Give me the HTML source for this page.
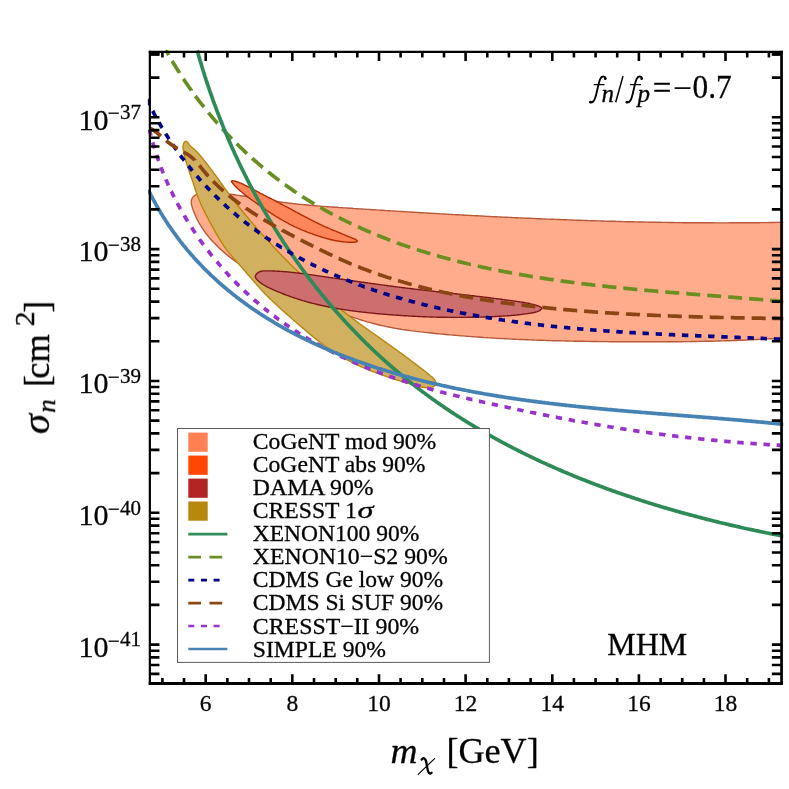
<!DOCTYPE html>
<html><head><meta charset="utf-8"><title>plot</title>
<style>html,body{margin:0;padding:0;background:#fff}svg{display:block;will-change:transform}text{font-family:"Liberation Serif",serif;fill:#000;stroke:#000;stroke-width:0.3px}</style></head><body>
<svg width="789" height="789" viewBox="0 0 789 789">
<rect width="789" height="789" fill="#fff"/>
<defs><clipPath id="cp"><rect x="147.85" y="49.85" width="635.40" height="635.65"/></clipPath></defs>
<g clip-path="url(#cp)" stroke-width="1.4" stroke-linejoin="round">
<path d="M795.0,222.1 L792.9,222.1 L790.8,222.2 L788.7,222.2 L786.6,222.2 L784.5,222.3 L782.4,222.3 L780.3,222.4 L778.2,222.4 L776.1,222.4 L774.0,222.5 L771.9,222.5 L769.7,222.5 L767.6,222.6 L765.5,222.6 L763.4,222.6 L761.3,222.6 L759.2,222.7 L757.1,222.7 L755.0,222.7 L752.9,222.7 L750.8,222.7 L748.7,222.8 L746.6,222.8 L744.5,222.8 L742.4,222.8 L740.3,222.8 L738.2,222.8 L736.1,222.8 L734.0,222.8 L731.9,222.8 L729.8,222.8 L727.6,222.9 L725.5,222.9 L723.4,222.9 L721.3,222.9 L719.2,222.9 L717.1,222.9 L715.0,222.9 L712.9,222.8 L710.8,222.8 L708.7,222.8 L706.6,222.8 L704.5,222.8 L702.4,222.8 L700.3,222.8 L698.2,222.8 L696.1,222.8 L694.0,222.8 L691.9,222.7 L689.8,222.7 L687.7,222.7 L685.6,222.7 L683.5,222.7 L681.4,222.6 L679.3,222.6 L677.2,222.6 L675.0,222.6 L672.9,222.5 L670.8,222.5 L668.7,222.5 L666.6,222.4 L664.5,222.4 L662.4,222.4 L660.3,222.3 L658.2,222.3 L656.1,222.3 L654.0,222.2 L651.9,222.2 L649.8,222.2 L647.7,222.1 L645.6,222.1 L643.5,222.0 L641.4,222.0 L639.3,222.0 L637.2,221.9 L635.1,221.9 L633.0,221.8 L630.9,221.8 L628.8,221.7 L626.7,221.7 L624.6,221.6 L622.5,221.6 L620.4,221.5 L618.3,221.5 L616.2,221.4 L614.1,221.3 L612.0,221.3 L609.9,221.2 L607.8,221.2 L605.7,221.1 L603.6,221.0 L601.4,221.0 L599.3,220.9 L597.2,220.9 L595.1,220.8 L593.0,220.7 L590.9,220.7 L588.8,220.6 L586.7,220.5 L584.6,220.5 L582.5,220.4 L580.4,220.3 L578.3,220.2 L576.2,220.2 L574.1,220.1 L572.0,220.0 L569.9,219.9 L567.8,219.9 L565.7,219.8 L563.6,219.7 L561.5,219.6 L559.4,219.5 L557.3,219.5 L555.2,219.4 L553.1,219.3 L551.0,219.2 L548.9,219.1 L546.8,219.1 L544.7,219.0 L542.6,218.9 L540.5,218.8 L538.4,218.7 L536.3,218.6 L534.2,218.5 L532.1,218.4 L530.0,218.3 L527.9,218.2 L525.8,218.2 L523.7,218.1 L521.6,218.0 L519.5,217.9 L517.4,217.8 L515.3,217.7 L513.2,217.6 L511.1,217.5 L509.0,217.4 L506.9,217.3 L504.8,217.2 L502.7,217.1 L500.6,217.0 L498.5,216.9 L496.4,216.8 L494.3,216.7 L492.1,216.6 L490.0,216.5 L487.9,216.4 L485.8,216.3 L483.7,216.1 L481.6,216.0 L479.5,215.9 L477.4,215.8 L475.3,215.7 L473.2,215.6 L471.1,215.5 L469.0,215.4 L466.9,215.3 L464.8,215.2 L462.7,215.0 L460.6,214.9 L458.5,214.8 L456.4,214.7 L454.3,214.6 L452.2,214.5 L450.1,214.4 L448.0,214.2 L445.9,214.1 L443.8,214.0 L441.7,213.9 L439.6,213.8 L437.5,213.6 L435.4,213.5 L433.3,213.4 L431.2,213.3 L429.1,213.2 L427.0,213.0 L424.9,212.9 L422.8,212.8 L420.7,212.7 L418.6,212.5 L416.5,212.4 L414.4,212.3 L412.3,212.2 L410.2,212.0 L408.1,211.9 L406.0,211.8 L403.9,211.6 L401.8,211.5 L399.7,211.4 L397.6,211.3 L395.5,211.1 L393.4,211.0 L391.3,210.9 L389.2,210.7 L387.1,210.6 L385.0,210.5 L382.9,210.3 L380.8,210.2 L378.7,210.1 L376.6,209.9 L374.5,209.8 L372.4,209.7 L370.3,209.5 L368.2,209.4 L366.1,209.3 L364.0,209.1 L361.8,209.0 L359.7,208.9 L357.6,208.7 L355.5,208.6 L353.4,208.5 L351.3,208.3 L349.2,208.2 L347.1,208.0 L345.0,207.9 L342.9,207.8 L340.8,207.6 L338.7,207.5 L336.6,207.3 L334.5,207.2 L332.4,207.0 L330.3,206.9 L328.2,206.7 L326.1,206.6 L324.0,206.4 L321.9,206.3 L319.8,206.1 L317.7,205.9 L315.6,205.7 L313.5,205.6 L311.5,205.4 L309.4,205.2 L307.3,205.0 L305.2,204.8 L303.1,204.6 L301.0,204.4 L298.9,204.2 L296.8,203.9 L294.7,203.7 L292.7,203.5 L290.6,203.2 L288.5,203.0 L286.4,202.7 L284.3,202.4 L282.3,202.2 L280.2,201.9 L278.1,201.6 L276.0,201.3 L274.0,201.0 L271.9,200.7 L269.8,200.3 L267.8,200.0 L265.7,199.7 L263.6,199.3 L261.6,199.0 L259.5,198.7 L257.4,198.3 L255.4,198.0 L253.3,197.6 L251.2,197.3 L249.2,196.9 L247.1,196.6 L245.0,196.3 L242.9,196.0 L240.8,195.7 L238.8,195.4 L236.7,195.1 L234.6,194.8 L232.5,194.5 L230.4,194.2 L228.3,194.0 L226.1,193.8 L224.0,193.5 L221.9,193.3 L219.8,193.1 L217.6,193.0 L215.5,192.8 L213.3,192.7 L211.1,192.6 L209.0,192.5 L206.8,192.5 L204.6,192.5 L202.5,192.7 L200.5,193.0 L198.5,193.5 L196.7,194.2 L195.0,195.3 L193.4,196.6 L192.2,198.2 L191.5,200.0 L191.3,201.9 L191.4,204.0 L191.9,206.1 L192.5,208.2 L193.2,210.2 L194.0,212.3 L194.8,214.3 L195.7,216.3 L196.6,218.2 L197.5,220.1 L198.5,222.0 L199.6,223.9 L200.7,225.7 L201.8,227.5 L203.0,229.2 L204.2,231.0 L205.4,232.7 L206.7,234.3 L208.0,236.0 L209.3,237.6 L210.7,239.2 L212.1,240.8 L213.5,242.3 L215.0,243.8 L216.4,245.3 L217.9,246.8 L219.4,248.2 L221.0,249.6 L222.5,251.0 L224.1,252.4 L225.7,253.7 L227.3,255.1 L228.9,256.4 L230.5,257.7 L232.2,258.9 L233.9,260.2 L235.6,261.4 L237.3,262.6 L239.0,263.8 L240.7,265.0 L242.4,266.1 L244.2,267.3 L245.9,268.4 L247.7,269.5 L249.5,270.6 L251.3,271.7 L253.1,272.7 L254.9,273.8 L256.8,274.8 L258.6,275.8 L260.5,276.8 L262.3,277.8 L264.2,278.8 L266.1,279.8 L267.9,280.8 L269.8,281.7 L271.7,282.7 L273.6,283.6 L275.5,284.6 L277.4,285.5 L279.4,286.4 L281.3,287.3 L283.2,288.2 L285.1,289.1 L287.1,290.0 L289.0,290.9 L290.9,291.7 L292.9,292.6 L294.8,293.5 L296.7,294.4 L298.7,295.2 L300.6,296.1 L302.5,296.9 L304.5,297.8 L306.4,298.7 L308.4,299.5 L310.3,300.4 L312.2,301.2 L314.2,302.1 L316.1,302.9 L318.1,303.7 L320.0,304.5 L321.9,305.4 L323.9,306.2 L325.8,307.0 L327.8,307.8 L329.7,308.6 L331.7,309.4 L333.6,310.2 L335.6,310.9 L337.5,311.7 L339.5,312.4 L341.5,313.2 L343.4,313.9 L345.4,314.6 L347.4,315.4 L349.3,316.1 L351.3,316.7 L353.3,317.4 L355.3,318.1 L357.2,318.7 L359.2,319.4 L361.2,320.0 L363.2,320.6 L365.2,321.2 L367.2,321.8 L369.2,322.4 L371.3,322.9 L373.3,323.5 L375.3,324.0 L377.3,324.5 L379.4,325.0 L381.4,325.5 L383.4,325.9 L385.5,326.4 L387.5,326.8 L389.6,327.2 L391.6,327.6 L393.7,328.0 L395.8,328.4 L397.9,328.7 L399.9,329.0 L402.0,329.4 L404.1,329.7 L406.2,330.0 L408.3,330.3 L410.4,330.6 L412.4,330.9 L414.5,331.1 L416.6,331.4 L418.7,331.6 L420.8,331.9 L422.9,332.1 L425.0,332.4 L427.1,332.6 L429.2,332.8 L431.3,333.0 L433.4,333.3 L435.5,333.5 L437.6,333.7 L439.7,333.9 L441.8,334.1 L443.9,334.3 L446.0,334.5 L448.1,334.7 L450.2,334.9 L452.3,335.1 L454.4,335.2 L456.5,335.4 L458.6,335.6 L460.7,335.8 L462.8,335.9 L464.9,336.1 L467.0,336.3 L469.1,336.4 L471.2,336.6 L473.3,336.7 L475.4,336.9 L477.5,337.0 L479.6,337.2 L481.7,337.3 L483.8,337.5 L485.9,337.6 L488.0,337.8 L490.1,337.9 L492.2,338.0 L494.3,338.1 L496.4,338.3 L498.5,338.4 L500.6,338.5 L502.7,338.6 L504.8,338.7 L506.9,338.8 L509.0,338.9 L511.1,339.1 L513.2,339.2 L515.3,339.3 L517.5,339.4 L519.6,339.5 L521.7,339.5 L523.8,339.6 L525.9,339.7 L528.0,339.8 L530.1,339.9 L532.2,340.0 L534.3,340.1 L536.4,340.1 L538.5,340.2 L540.6,340.3 L542.7,340.3 L544.8,340.4 L546.9,340.5 L549.0,340.5 L551.1,340.6 L553.2,340.7 L555.3,340.7 L557.4,340.8 L559.5,340.8 L561.6,340.9 L563.7,340.9 L565.8,341.0 L567.9,341.0 L570.0,341.1 L572.1,341.1 L574.2,341.2 L576.3,341.2 L578.4,341.3 L580.5,341.3 L582.6,341.3 L584.7,341.4 L586.8,341.4 L588.9,341.4 L591.0,341.5 L593.1,341.5 L595.2,341.5 L597.3,341.5 L599.4,341.6 L601.5,341.6 L603.6,341.6 L605.7,341.6 L607.8,341.6 L609.9,341.7 L612.0,341.7 L614.1,341.7 L616.2,341.7 L618.3,341.7 L620.4,341.7 L622.5,341.8 L624.6,341.8 L626.7,341.8 L628.9,341.8 L631.0,341.8 L633.1,341.8 L635.2,341.8 L637.3,341.8 L639.4,341.8 L641.5,341.8 L643.6,341.8 L645.7,341.8 L647.8,341.8 L649.9,341.8 L652.0,341.8 L654.1,341.8 L656.2,341.8 L658.3,341.8 L660.4,341.8 L662.5,341.8 L664.6,341.8 L666.7,341.8 L668.8,341.8 L670.9,341.8 L673.1,341.7 L675.2,341.7 L677.3,341.7 L679.4,341.7 L681.5,341.7 L683.6,341.6 L685.7,341.6 L687.8,341.6 L689.9,341.6 L692.0,341.5 L694.1,341.5 L696.2,341.5 L698.3,341.4 L700.4,341.4 L702.5,341.4 L704.6,341.3 L706.7,341.3 L708.8,341.2 L710.9,341.2 L713.1,341.2 L715.2,341.1 L717.3,341.0 L719.4,341.0 L721.5,340.9 L723.6,340.9 L725.7,340.8 L727.8,340.7 L729.9,340.7 L732.0,340.6 L734.1,340.5 L736.2,340.5 L738.3,340.4 L740.4,340.3 L742.5,340.2 L744.6,340.1 L746.7,340.0 L748.8,339.9 L750.9,339.8 L753.0,339.7 L755.1,339.6 L757.2,339.5 L759.3,339.4 L761.4,339.3 L763.5,339.2 L765.6,339.1 L767.7,338.9 L769.8,338.8 L771.9,338.7 L774.0,338.6 L776.1,338.4 L778.2,338.3 L780.3,338.1 L782.4,338.0 L784.5,337.8 L786.6,337.7 L788.7,337.5 L790.8,337.4 L792.9,337.2 L795.0,337.0Z" fill="#ffac8d" stroke="#b8593a"/>
<path d="M231.5,181.3 L231.5,181.2 L231.5,181.1 L231.6,181.0 L231.6,181.0 L231.7,180.9 L231.8,180.9 L231.9,180.9 L232.0,180.8 L232.1,180.8 L232.3,180.8 L232.4,180.8 L232.6,180.8 L232.8,180.8 L233.0,180.9 L233.3,180.9 L233.5,180.9 L233.8,181.0 L234.0,181.0 L234.3,181.0 L234.6,181.1 L234.9,181.1 L235.3,181.2 L235.6,181.3 L236.0,181.4 L236.3,181.5 L236.7,181.6 L237.1,181.7 L237.5,181.9 L238.0,182.1 L238.4,182.2 L238.9,182.4 L239.4,182.6 L239.8,182.8 L240.3,183.0 L240.9,183.2 L241.4,183.5 L241.9,183.7 L242.5,184.0 L243.0,184.2 L243.6,184.5 L244.2,184.8 L244.8,185.1 L245.4,185.4 L246.1,185.7 L246.7,186.0 L247.4,186.3 L248.0,186.7 L248.7,187.0 L249.4,187.4 L250.1,187.8 L250.8,188.1 L251.5,188.5 L252.3,188.9 L253.0,189.3 L253.8,189.7 L254.5,190.1 L255.3,190.5 L256.1,190.9 L256.9,191.3 L257.7,191.8 L258.5,192.2 L259.3,192.6 L260.1,193.1 L261.0,193.5 L261.8,194.0 L262.7,194.4 L263.5,194.8 L264.4,195.3 L265.3,195.7 L266.2,196.2 L267.0,196.6 L267.9,197.1 L268.8,197.5 L269.8,198.0 L270.7,198.4 L271.6,198.9 L272.5,199.4 L273.5,199.9 L274.4,200.4 L275.3,200.9 L276.3,201.4 L277.2,201.9 L278.2,202.4 L279.2,203.0 L280.1,203.5 L281.1,204.0 L282.1,204.5 L283.0,205.0 L284.0,205.6 L285.0,206.1 L286.0,206.6 L287.0,207.1 L288.0,207.6 L288.9,208.2 L289.9,208.7 L290.9,209.2 L291.9,209.7 L292.9,210.3 L293.9,210.8 L294.9,211.3 L295.9,211.9 L296.9,212.4 L297.9,213.0 L298.9,213.5 L299.9,214.0 L300.8,214.6 L301.8,215.1 L302.8,215.6 L303.8,216.1 L304.8,216.6 L305.8,217.1 L306.7,217.7 L307.7,218.2 L308.7,218.7 L309.6,219.2 L310.6,219.7 L311.6,220.1 L312.5,220.6 L313.5,221.1 L314.4,221.6 L315.3,222.1 L316.3,222.5 L317.2,223.0 L318.1,223.4 L319.0,223.9 L320.0,224.3 L320.9,224.7 L321.8,225.2 L322.6,225.6 L323.5,226.0 L324.4,226.4 L325.3,226.8 L326.1,227.1 L327.0,227.5 L327.8,227.9 L328.7,228.2 L329.5,228.6 L330.3,228.9 L331.1,229.3 L331.9,229.6 L332.7,230.0 L333.5,230.3 L334.3,230.6 L335.0,230.9 L335.8,231.2 L336.5,231.5 L337.3,231.8 L338.0,232.1 L338.7,232.4 L339.4,232.7 L340.1,233.0 L340.8,233.3 L341.4,233.6 L342.1,233.8 L342.7,234.1 L343.4,234.4 L344.0,234.6 L344.6,234.9 L345.2,235.1 L345.8,235.4 L346.3,235.6 L346.9,235.8 L347.4,236.0 L347.9,236.3 L348.5,236.5 L349.0,236.7 L349.4,236.9 L349.9,237.1 L350.4,237.3 L350.8,237.4 L351.3,237.6 L351.7,237.8 L352.1,238.0 L352.5,238.1 L352.8,238.3 L353.2,238.4 L353.5,238.6 L353.9,238.7 L354.2,238.8 L354.5,239.0 L354.8,239.1 L355.0,239.2 L355.3,239.4 L355.5,239.5 L355.8,239.6 L356.0,239.7 L356.2,239.8 L356.4,240.0 L356.5,240.1 L356.7,240.2 L356.8,240.3 L356.9,240.4 L357.0,240.5 L357.1,240.6 L357.2,240.7 L357.2,240.8 L357.3,240.9 L357.3,241.0 L357.3,241.0 L357.3,241.0 L357.3,241.1 L357.3,241.2 L357.2,241.3 L357.2,241.4 L357.1,241.4 L357.0,241.5 L356.9,241.6 L356.8,241.6 L356.7,241.7 L356.5,241.8 L356.4,241.8 L356.2,241.9 L356.0,241.9 L355.8,242.0 L355.5,242.0 L355.3,242.1 L355.0,242.1 L354.8,242.1 L354.5,242.2 L354.2,242.2 L353.9,242.2 L353.5,242.2 L353.2,242.2 L352.8,242.2 L352.5,242.2 L352.1,242.2 L351.7,242.2 L351.3,242.2 L350.8,242.2 L350.4,242.2 L349.9,242.2 L349.4,242.2 L349.0,242.2 L348.5,242.2 L347.9,242.2 L347.4,242.1 L346.9,242.1 L346.3,242.1 L345.8,242.0 L345.2,242.0 L344.6,241.9 L344.0,241.9 L343.4,241.8 L342.7,241.8 L342.1,241.7 L341.4,241.6 L340.8,241.5 L340.1,241.4 L339.4,241.3 L338.7,241.2 L338.0,241.1 L337.3,241.0 L336.5,240.8 L335.8,240.7 L335.0,240.5 L334.3,240.4 L333.5,240.2 L332.7,240.0 L331.9,239.8 L331.1,239.7 L330.3,239.5 L329.5,239.2 L328.7,239.0 L327.8,238.8 L327.0,238.6 L326.1,238.3 L325.3,238.1 L324.4,237.8 L323.5,237.6 L322.6,237.3 L321.8,237.0 L320.9,236.8 L320.0,236.5 L319.0,236.2 L318.1,235.9 L317.2,235.6 L316.3,235.3 L315.3,235.0 L314.4,234.7 L313.5,234.4 L312.5,234.0 L311.6,233.7 L310.6,233.4 L309.6,233.0 L308.7,232.6 L307.7,232.3 L306.7,231.9 L305.8,231.5 L304.8,231.1 L303.8,230.7 L302.8,230.3 L301.8,229.9 L300.8,229.4 L299.9,229.0 L298.9,228.6 L297.9,228.1 L296.9,227.7 L295.9,227.2 L294.9,226.8 L293.9,226.3 L292.9,225.8 L291.9,225.3 L290.9,224.8 L289.9,224.3 L288.9,223.8 L288.0,223.2 L287.0,222.7 L286.0,222.2 L285.0,221.6 L284.0,221.1 L283.0,220.5 L282.1,220.0 L281.1,219.4 L280.1,218.8 L279.2,218.3 L278.2,217.7 L277.2,217.1 L276.3,216.6 L275.3,216.0 L274.4,215.4 L273.5,214.8 L272.5,214.2 L271.6,213.6 L270.7,213.0 L269.8,212.4 L268.8,211.8 L267.9,211.2 L267.0,210.6 L266.2,210.0 L265.3,209.3 L264.4,208.7 L263.5,208.1 L262.7,207.5 L261.8,206.9 L261.0,206.4 L260.1,205.8 L259.3,205.2 L258.5,204.6 L257.7,204.1 L256.9,203.5 L256.1,202.9 L255.3,202.4 L254.5,201.8 L253.8,201.3 L253.0,200.7 L252.3,200.2 L251.5,199.7 L250.8,199.2 L250.1,198.6 L249.4,198.1 L248.7,197.6 L248.0,197.1 L247.4,196.6 L246.7,196.1 L246.1,195.6 L245.4,195.1 L244.8,194.6 L244.2,194.2 L243.6,193.7 L243.0,193.2 L242.5,192.8 L241.9,192.3 L241.4,191.8 L240.9,191.4 L240.3,191.0 L239.8,190.5 L239.4,190.1 L238.9,189.7 L238.4,189.3 L238.0,188.9 L237.5,188.5 L237.1,188.1 L236.7,187.7 L236.3,187.3 L236.0,187.0 L235.6,186.6 L235.3,186.2 L234.9,185.9 L234.6,185.5 L234.3,185.2 L234.0,184.8 L233.8,184.5 L233.5,184.2 L233.3,183.9 L233.0,183.7 L232.8,183.4 L232.6,183.2 L232.4,183.0 L232.3,182.7 L232.1,182.5 L232.0,182.4 L231.9,182.2 L231.8,182.0 L231.7,181.9 L231.6,181.7 L231.6,181.6 L231.5,181.5 L231.5,181.4 L231.5,181.3Z" fill="#ff8659" stroke="#b42c04"/>
<path d="M185.6,141.2 L186.7,141.5 L187.8,142.5 L188.7,143.8 L189.6,145.1 L190.6,146.3 L191.7,147.2 L192.8,148.1 L193.9,149.0 L195.0,150.0 L196.1,151.0 L197.1,152.0 L198.1,153.1 L199.1,154.2 L200.0,155.3 L200.9,156.4 L201.9,157.6 L202.8,158.7 L203.7,159.9 L204.6,161.0 L205.6,162.2 L206.5,163.3 L207.4,164.5 L208.3,165.6 L209.2,166.8 L210.0,167.9 L210.9,169.1 L211.8,170.3 L212.7,171.4 L213.5,172.6 L214.4,173.8 L215.3,175.0 L216.1,176.1 L217.0,177.3 L217.9,178.5 L218.7,179.7 L219.6,180.9 L220.4,182.1 L221.3,183.3 L222.1,184.5 L223.0,185.7 L223.8,186.9 L224.7,188.1 L225.5,189.2 L226.4,190.4 L227.2,191.6 L228.1,192.8 L228.9,194.0 L229.8,195.2 L230.7,196.3 L231.6,197.5 L232.4,198.7 L233.3,199.8 L234.2,201.0 L235.1,202.2 L236.0,203.3 L236.9,204.5 L237.8,205.6 L238.7,206.8 L239.7,207.9 L240.6,209.0 L241.5,210.2 L242.4,211.3 L243.3,212.4 L244.3,213.5 L245.2,214.7 L246.1,215.8 L247.1,216.9 L248.0,218.0 L249.0,219.2 L249.9,220.3 L250.9,221.4 L251.8,222.5 L252.8,223.6 L253.7,224.7 L254.7,225.8 L255.6,226.9 L256.6,228.0 L257.5,229.1 L258.5,230.2 L259.5,231.3 L260.4,232.4 L261.4,233.5 L262.4,234.6 L263.4,235.7 L264.3,236.8 L265.3,237.9 L266.3,239.0 L267.3,240.1 L268.3,241.1 L269.3,242.2 L270.3,243.3 L271.3,244.4 L272.2,245.4 L273.2,246.5 L274.2,247.6 L275.3,248.7 L276.3,249.7 L277.3,250.8 L278.3,251.8 L279.3,252.9 L280.3,254.0 L281.3,255.0 L282.3,256.1 L283.4,257.1 L284.4,258.2 L285.4,259.2 L286.4,260.2 L287.5,261.3 L288.5,262.3 L289.5,263.4 L290.6,264.4 L291.6,265.4 L292.6,266.5 L293.7,267.5 L294.7,268.5 L295.8,269.5 L296.8,270.6 L297.9,271.6 L298.9,272.6 L300.0,273.6 L301.1,274.6 L302.1,275.6 L303.2,276.6 L304.3,277.6 L305.3,278.6 L306.4,279.6 L307.5,280.6 L308.5,281.6 L309.6,282.6 L310.7,283.6 L311.8,284.6 L312.9,285.6 L314.0,286.5 L315.0,287.5 L316.1,288.5 L317.2,289.5 L318.3,290.4 L319.4,291.4 L320.5,292.4 L321.6,293.3 L322.7,294.3 L323.8,295.2 L324.9,296.2 L326.1,297.1 L327.2,298.1 L328.3,299.0 L329.4,300.0 L330.5,300.9 L331.7,301.9 L332.8,302.8 L333.9,303.7 L335.0,304.7 L336.2,305.6 L337.3,306.5 L338.4,307.4 L339.6,308.3 L340.7,309.2 L341.9,310.2 L343.0,311.1 L344.2,312.0 L345.3,312.9 L346.5,313.8 L347.6,314.7 L348.8,315.6 L349.9,316.5 L351.1,317.3 L352.3,318.2 L353.4,319.1 L354.6,320.0 L355.8,320.9 L356.9,321.7 L358.1,322.6 L359.3,323.5 L360.5,324.3 L361.7,325.2 L362.8,326.0 L364.0,326.9 L365.2,327.7 L366.4,328.6 L367.6,329.4 L368.8,330.3 L370.0,331.1 L371.2,332.0 L372.4,332.8 L373.6,333.7 L374.8,334.5 L376.0,335.3 L377.2,336.2 L378.4,337.0 L379.6,337.9 L380.8,338.7 L382.0,339.6 L383.2,340.4 L384.4,341.3 L385.6,342.1 L386.8,343.0 L388.0,343.8 L389.2,344.7 L390.3,345.5 L391.5,346.4 L392.7,347.2 L393.9,348.1 L395.1,348.9 L396.3,349.8 L397.5,350.7 L398.6,351.5 L399.8,352.4 L401.0,353.2 L402.2,354.1 L403.3,354.9 L404.5,355.8 L405.7,356.7 L406.8,357.5 L408.0,358.4 L409.2,359.2 L410.3,360.1 L411.5,361.0 L412.7,361.8 L413.8,362.7 L415.0,363.6 L416.1,364.5 L417.3,365.4 L418.5,366.3 L419.6,367.2 L420.8,368.1 L422.0,369.0 L423.1,369.9 L424.3,370.8 L425.5,371.7 L426.6,372.7 L427.8,373.6 L429.0,374.5 L430.1,375.5 L431.3,376.5 L432.5,377.4 L433.5,378.5 L434.5,379.5 L435.2,380.7 L435.7,381.9 L435.9,383.2 L435.6,384.6 L434.7,385.7 L433.4,386.5 L432.1,387.1 L430.6,387.5 L429.1,387.7 L427.6,387.7 L426.1,387.7 L424.6,387.5 L423.1,387.3 L421.7,387.0 L420.2,386.7 L418.8,386.4 L417.4,386.0 L416.0,385.6 L414.6,385.2 L413.2,384.8 L411.8,384.4 L410.4,384.0 L409.0,383.6 L407.6,383.2 L406.2,382.8 L404.8,382.4 L403.4,381.9 L402.0,381.5 L400.6,381.1 L399.2,380.7 L397.8,380.3 L396.4,379.8 L395.0,379.4 L393.6,378.9 L392.2,378.5 L390.9,378.0 L389.5,377.6 L388.1,377.1 L386.7,376.7 L385.3,376.2 L383.9,375.7 L382.5,375.2 L381.2,374.7 L379.8,374.2 L378.4,373.7 L377.0,373.2 L375.6,372.7 L374.3,372.2 L372.9,371.6 L371.5,371.1 L370.2,370.5 L368.8,370.0 L367.5,369.4 L366.1,368.9 L364.8,368.3 L363.4,367.7 L362.1,367.1 L360.7,366.5 L359.4,365.9 L358.1,365.3 L356.8,364.7 L355.4,364.0 L354.1,363.4 L352.8,362.7 L351.5,362.1 L350.2,361.4 L348.9,360.8 L347.6,360.1 L346.3,359.4 L345.0,358.7 L343.8,358.0 L342.5,357.2 L341.2,356.5 L340.0,355.8 L338.7,355.0 L337.5,354.3 L336.2,353.5 L335.0,352.7 L333.8,351.9 L332.5,351.1 L331.3,350.3 L330.1,349.5 L328.9,348.7 L327.7,347.9 L326.5,347.0 L325.3,346.2 L324.1,345.3 L323.0,344.4 L321.8,343.6 L320.6,342.7 L319.5,341.8 L318.3,340.9 L317.2,340.0 L316.0,339.1 L314.9,338.2 L313.7,337.3 L312.6,336.4 L311.4,335.4 L310.3,334.5 L309.2,333.6 L308.1,332.6 L306.9,331.7 L305.8,330.7 L304.7,329.8 L303.6,328.8 L302.5,327.9 L301.4,326.9 L300.3,326.0 L299.1,325.0 L298.0,324.0 L296.9,323.1 L295.8,322.1 L294.7,321.1 L293.6,320.2 L292.5,319.2 L291.4,318.2 L290.3,317.3 L289.2,316.3 L288.1,315.3 L287.0,314.4 L285.9,313.4 L284.8,312.4 L283.7,311.4 L282.6,310.5 L281.5,309.5 L280.4,308.5 L279.4,307.5 L278.3,306.6 L277.2,305.6 L276.1,304.6 L275.1,303.6 L274.0,302.6 L272.9,301.6 L271.9,300.6 L270.8,299.6 L269.8,298.6 L268.7,297.5 L267.7,296.5 L266.7,295.5 L265.7,294.4 L264.7,293.4 L263.6,292.3 L262.7,291.2 L261.7,290.2 L260.7,289.1 L259.7,288.0 L258.7,286.9 L257.7,285.8 L256.8,284.7 L255.8,283.6 L254.8,282.5 L253.9,281.4 L252.9,280.3 L252.0,279.2 L251.0,278.1 L250.0,277.0 L249.1,275.9 L248.1,274.8 L247.2,273.7 L246.2,272.5 L245.3,271.4 L244.3,270.3 L243.3,269.2 L242.4,268.1 L241.4,267.0 L240.4,265.9 L239.5,264.8 L238.5,263.7 L237.5,262.6 L236.5,261.5 L235.6,260.4 L234.6,259.3 L233.6,258.2 L232.7,257.1 L231.7,256.0 L230.8,254.9 L229.9,253.7 L228.9,252.6 L228.0,251.5 L227.1,250.3 L226.2,249.1 L225.4,248.0 L224.5,246.8 L223.7,245.6 L222.9,244.4 L222.1,243.2 L221.3,241.9 L220.5,240.7 L219.7,239.5 L218.9,238.2 L218.2,236.9 L217.5,235.7 L216.7,234.4 L216.0,233.1 L215.3,231.9 L214.6,230.6 L213.9,229.3 L213.1,228.0 L212.4,226.7 L211.7,225.4 L211.0,224.2 L210.3,222.9 L209.6,221.6 L208.9,220.3 L208.3,219.0 L207.6,217.7 L206.9,216.4 L206.2,215.1 L205.6,213.8 L204.9,212.5 L204.3,211.2 L203.6,209.9 L203.0,208.6 L202.4,207.3 L201.7,205.9 L201.1,204.6 L200.5,203.3 L200.0,201.9 L199.4,200.6 L198.8,199.2 L198.3,197.8 L197.8,196.5 L197.3,195.1 L196.8,193.7 L196.3,192.3 L195.8,190.9 L195.3,189.5 L194.9,188.1 L194.4,186.7 L194.0,185.3 L193.5,183.9 L193.1,182.5 L192.6,181.2 L192.1,179.8 L191.6,178.4 L191.2,177.0 L190.7,175.7 L190.2,174.3 L189.7,173.0 L189.3,171.6 L188.8,170.2 L188.3,168.9 L187.9,167.5 L187.4,166.1 L187.0,164.7 L186.6,163.3 L186.1,161.9 L185.7,160.5 L185.3,159.1 L184.9,157.6 L184.6,156.2 L184.2,154.7 L183.9,153.2 L183.6,151.7 L183.3,150.2 L183.1,148.7 L183.0,147.2 L183.1,145.8 L183.4,144.4 L183.8,143.2 L184.6,142.0 L185.6,141.2Z" fill="#d1b060" stroke="#b8860b"/>
<path d="M255.3,276.7 L255.5,275.6 L256.0,274.6 L256.8,273.7 L257.8,272.8 L258.9,272.1 L260.0,271.6 L261.1,271.3 L262.3,271.1 L263.5,270.9 L264.7,270.9 L265.9,270.9 L267.1,270.9 L268.3,270.9 L269.5,270.9 L270.7,270.9 L271.9,270.9 L273.1,271.0 L274.3,271.0 L275.5,271.1 L276.7,271.1 L277.9,271.2 L279.1,271.3 L280.3,271.4 L281.5,271.4 L282.6,271.5 L283.8,271.6 L285.0,271.7 L286.2,271.8 L287.4,271.9 L288.6,272.0 L289.7,272.1 L290.9,272.3 L292.1,272.4 L293.3,272.5 L294.4,272.6 L295.6,272.8 L296.8,272.9 L298.0,273.0 L299.1,273.2 L300.3,273.3 L301.5,273.5 L302.6,273.6 L303.8,273.8 L305.0,273.9 L306.1,274.1 L307.3,274.3 L308.5,274.4 L309.6,274.6 L310.8,274.7 L312.0,274.9 L313.1,275.1 L314.3,275.2 L315.5,275.4 L316.6,275.6 L317.8,275.8 L318.9,275.9 L320.1,276.1 L321.3,276.3 L322.4,276.4 L323.6,276.6 L324.8,276.8 L325.9,276.9 L327.1,277.1 L328.3,277.3 L329.4,277.5 L330.6,277.6 L331.8,277.8 L332.9,278.0 L334.1,278.1 L335.3,278.3 L336.4,278.5 L337.6,278.6 L338.8,278.8 L339.9,279.0 L341.1,279.2 L342.3,279.3 L343.5,279.5 L344.6,279.7 L345.8,279.8 L347.0,280.0 L348.1,280.2 L349.3,280.3 L350.5,280.5 L351.6,280.7 L352.8,280.8 L354.0,281.0 L355.2,281.2 L356.3,281.3 L357.5,281.5 L358.7,281.7 L359.8,281.8 L361.0,282.0 L362.2,282.2 L363.3,282.3 L364.5,282.5 L365.7,282.7 L366.9,282.8 L368.0,283.0 L369.2,283.1 L370.4,283.3 L371.5,283.5 L372.7,283.6 L373.9,283.8 L375.1,284.0 L376.2,284.1 L377.4,284.3 L378.6,284.4 L379.8,284.6 L380.9,284.8 L382.1,284.9 L383.3,285.1 L384.4,285.2 L385.6,285.4 L386.8,285.5 L388.0,285.7 L389.1,285.9 L390.3,286.0 L391.5,286.2 L392.7,286.3 L393.8,286.5 L395.0,286.6 L396.2,286.8 L397.3,286.9 L398.5,287.1 L399.7,287.2 L400.9,287.4 L402.0,287.5 L403.2,287.7 L404.4,287.8 L405.6,288.0 L406.7,288.1 L407.9,288.3 L409.1,288.4 L410.2,288.5 L411.4,288.7 L412.6,288.8 L413.8,289.0 L414.9,289.1 L416.1,289.3 L417.3,289.4 L418.5,289.5 L419.6,289.7 L420.8,289.8 L422.0,289.9 L423.1,290.1 L424.3,290.2 L425.5,290.4 L426.7,290.5 L427.8,290.6 L429.0,290.8 L430.2,290.9 L431.4,291.0 L432.5,291.2 L433.7,291.3 L434.9,291.4 L436.0,291.6 L437.2,291.7 L438.4,291.8 L439.6,292.0 L440.7,292.1 L441.9,292.2 L443.1,292.4 L444.3,292.5 L445.4,292.6 L446.6,292.8 L447.8,292.9 L448.9,293.0 L450.1,293.2 L451.3,293.3 L452.5,293.4 L453.6,293.6 L454.8,293.7 L456.0,293.8 L457.2,294.0 L458.3,294.1 L459.5,294.2 L460.7,294.4 L461.8,294.5 L463.0,294.6 L464.2,294.8 L465.4,294.9 L466.5,295.0 L467.7,295.2 L468.9,295.3 L470.0,295.4 L471.2,295.6 L472.4,295.7 L473.6,295.8 L474.7,296.0 L475.9,296.1 L477.1,296.3 L478.3,296.4 L479.4,296.5 L480.6,296.7 L481.8,296.8 L482.9,297.0 L484.1,297.1 L485.3,297.2 L486.5,297.4 L487.6,297.5 L488.8,297.7 L490.0,297.8 L491.2,298.0 L492.3,298.1 L493.5,298.3 L494.7,298.4 L495.8,298.6 L497.0,298.7 L498.2,298.9 L499.4,299.0 L500.5,299.2 L501.7,299.3 L502.9,299.5 L504.1,299.6 L505.2,299.8 L506.4,300.0 L507.6,300.1 L508.7,300.3 L509.9,300.4 L511.1,300.6 L512.3,300.8 L513.4,300.9 L514.6,301.1 L515.8,301.3 L517.0,301.4 L518.1,301.6 L519.3,301.8 L520.5,302.0 L521.6,302.1 L522.8,302.3 L524.0,302.5 L525.2,302.7 L526.3,302.9 L527.5,303.1 L528.7,303.3 L529.8,303.6 L531.0,303.9 L532.2,304.1 L533.3,304.4 L534.5,304.8 L535.7,305.1 L536.8,305.5 L538.0,305.9 L539.1,306.4 L540.2,306.9 L541.0,307.4 L541.6,308.0 L541.6,308.6 L541.3,309.3 L540.6,309.9 L539.7,310.6 L538.6,311.1 L537.5,311.6 L536.4,311.9 L535.2,312.2 L534.0,312.5 L532.7,312.7 L531.5,313.0 L530.3,313.2 L529.0,313.4 L527.8,313.6 L526.6,313.8 L525.4,313.9 L524.2,314.1 L523.0,314.3 L521.8,314.4 L520.6,314.6 L519.4,314.7 L518.2,314.8 L517.1,315.0 L515.9,315.1 L514.7,315.2 L513.5,315.3 L512.4,315.4 L511.2,315.5 L510.0,315.6 L508.8,315.7 L507.7,315.8 L506.5,315.9 L505.3,315.9 L504.2,316.0 L503.0,316.1 L501.8,316.1 L500.7,316.2 L499.5,316.3 L498.3,316.3 L497.2,316.4 L496.0,316.5 L494.8,316.5 L493.7,316.6 L492.5,316.6 L491.3,316.7 L490.2,316.7 L489.0,316.8 L487.8,316.8 L486.6,316.9 L485.5,316.9 L484.3,317.0 L483.1,317.0 L481.9,317.0 L480.8,317.1 L479.6,317.1 L478.4,317.1 L477.2,317.2 L476.1,317.2 L474.9,317.2 L473.7,317.2 L472.5,317.3 L471.3,317.3 L470.2,317.3 L469.0,317.3 L467.8,317.3 L466.6,317.4 L465.5,317.4 L464.3,317.4 L463.1,317.4 L461.9,317.4 L460.7,317.4 L459.5,317.4 L458.4,317.4 L457.2,317.4 L456.0,317.4 L454.8,317.4 L453.6,317.4 L452.5,317.4 L451.3,317.4 L450.1,317.4 L448.9,317.4 L447.7,317.4 L446.5,317.3 L445.4,317.3 L444.2,317.3 L443.0,317.3 L441.8,317.3 L440.6,317.2 L439.4,317.2 L438.2,317.2 L437.1,317.2 L435.9,317.1 L434.7,317.1 L433.5,317.1 L432.3,317.0 L431.1,317.0 L429.9,317.0 L428.8,316.9 L427.6,316.9 L426.4,316.8 L425.2,316.8 L424.0,316.7 L422.8,316.7 L421.7,316.6 L420.5,316.6 L419.3,316.5 L418.1,316.5 L416.9,316.4 L415.7,316.4 L414.5,316.3 L413.4,316.2 L412.2,316.2 L411.0,316.1 L409.8,316.1 L408.6,316.0 L407.4,315.9 L406.3,315.8 L405.1,315.8 L403.9,315.7 L402.7,315.6 L401.5,315.5 L400.3,315.5 L399.2,315.4 L398.0,315.3 L396.8,315.2 L395.6,315.1 L394.4,315.1 L393.3,315.0 L392.1,314.9 L390.9,314.8 L389.7,314.7 L388.5,314.6 L387.4,314.5 L386.2,314.4 L385.0,314.3 L383.8,314.2 L382.6,314.1 L381.5,314.0 L380.3,313.9 L379.1,313.8 L377.9,313.7 L376.8,313.6 L375.6,313.5 L374.4,313.4 L373.2,313.2 L372.1,313.1 L370.9,313.0 L369.7,312.9 L368.5,312.8 L367.4,312.6 L366.2,312.5 L365.0,312.4 L363.8,312.2 L362.7,312.1 L361.5,312.0 L360.3,311.8 L359.2,311.7 L358.0,311.6 L356.8,311.4 L355.7,311.3 L354.5,311.1 L353.3,311.0 L352.2,310.8 L351.0,310.6 L349.8,310.5 L348.7,310.3 L347.5,310.1 L346.3,310.0 L345.2,309.8 L344.0,309.6 L342.9,309.4 L341.7,309.2 L340.5,309.1 L339.4,308.9 L338.2,308.7 L337.1,308.5 L335.9,308.3 L334.8,308.1 L333.6,307.8 L332.4,307.6 L331.3,307.4 L330.1,307.2 L329.0,307.0 L327.8,306.7 L326.7,306.5 L325.5,306.3 L324.4,306.0 L323.2,305.8 L322.1,305.5 L320.9,305.3 L319.8,305.0 L318.6,304.7 L317.5,304.5 L316.4,304.2 L315.2,303.9 L314.1,303.6 L312.9,303.4 L311.8,303.1 L310.7,302.8 L309.5,302.5 L308.4,302.2 L307.2,301.9 L306.1,301.5 L305.0,301.2 L303.8,300.9 L302.7,300.6 L301.6,300.2 L300.4,299.9 L299.3,299.5 L298.2,299.2 L297.1,298.8 L295.9,298.4 L294.8,298.1 L293.7,297.7 L292.6,297.3 L291.4,296.9 L290.3,296.5 L289.2,296.1 L288.1,295.7 L287.0,295.3 L285.8,294.9 L284.7,294.5 L283.6,294.0 L282.5,293.6 L281.4,293.2 L280.3,292.7 L279.2,292.2 L278.0,291.8 L276.9,291.3 L275.8,290.8 L274.7,290.4 L273.6,289.9 L272.5,289.4 L271.4,288.9 L270.3,288.4 L269.2,287.8 L268.1,287.3 L267.0,286.8 L266.0,286.2 L264.9,285.6 L263.9,285.0 L262.9,284.4 L261.9,283.8 L261.0,283.1 L260.1,282.4 L259.2,281.7 L258.3,281.0 L257.5,280.2 L256.8,279.4 L256.1,278.5 L255.5,277.6 L255.3,276.7Z" fill="#cd6f6f" stroke="#7d1818"/>
</g>
<g clip-path="url(#cp)" fill="none" stroke-width="3.7">
<path d="M165.9,50.2L166.5,51.1L167.0,52.0L167.5,52.9L168.0,53.8L168.5,54.7L168.7,55.1M172.2,61.1L172.7,61.9L173.2,62.8L173.7,63.7L174.3,64.5L174.8,65.4L175.4,66.3L175.9,67.2L176.4,68.1L177.0,68.9L177.5,69.8L178.1,70.7L178.6,71.6L179.2,72.4L179.5,73.0M183.3,78.8L183.7,79.3L184.3,80.2L184.8,81.0L185.4,81.9L186.0,82.7L186.6,83.6L187.2,84.4L187.8,85.3L188.3,86.1L188.9,87.0L189.5,87.8L190.1,88.7L190.7,89.5L191.3,90.3L191.3,90.4M195.4,96.0L195.5,96.1L196.1,97.0L196.7,97.8L197.4,98.6L198.0,99.4L198.6,100.2L199.2,101.1L199.8,101.9L200.5,102.7L201.1,103.5L201.7,104.3L202.4,105.1L203.0,105.9L203.6,106.7L204.0,107.2M208.4,112.6L208.8,113.1L209.4,113.9L210.1,114.6L210.7,115.4L211.4,116.2L212.0,117.0L212.7,117.8L213.3,118.5L214.0,119.3L214.7,120.1L215.3,120.9L216.0,121.6L216.7,122.4L217.3,123.2L217.5,123.4M222.2,128.6L222.8,129.2L223.5,130.0L224.2,130.7L224.8,131.5L225.5,132.2L226.2,133.0L226.9,133.7L227.6,134.4L228.3,135.2L229.0,135.9L229.7,136.6L230.4,137.4L231.1,138.1L231.8,138.8L231.9,138.9M236.7,143.8L236.8,143.9L237.6,144.6L238.3,145.3L239.0,146.0L239.7,146.7L240.4,147.4L241.2,148.1L241.9,148.8L242.6,149.5L243.4,150.2L244.1,150.9L244.8,151.6L245.6,152.3L246.3,153.0L247.0,153.6M252.1,158.2L252.3,158.4L253.0,159.1L253.8,159.7L254.5,160.4L255.3,161.1L256.1,161.7L256.8,162.4L257.6,163.1L258.3,163.7L259.1,164.4L259.9,165.0L260.6,165.7L261.4,166.3L262.2,167.0L262.8,167.5M268.2,171.9L268.4,172.1L269.2,172.7L270.0,173.3L270.8,173.9L271.5,174.6L272.3,175.2L273.1,175.8L273.9,176.4L274.7,177.0L275.5,177.6L276.3,178.3L277.1,178.9L277.9,179.5L278.7,180.1L279.3,180.6M284.9,184.7L285.1,184.8L286.0,185.4L286.8,186.0L287.6,186.6L288.4,187.1L289.2,187.7L290.0,188.3L290.9,188.9L291.7,189.4L292.5,190.0L293.3,190.6L294.1,191.1L295.0,191.7L295.8,192.2L296.5,192.7M302.4,196.5L302.5,196.6L303.3,197.2L304.1,197.7L305.0,198.2L305.8,198.8L306.7,199.3L307.5,199.8L308.4,200.3L309.2,200.9L310.1,201.4L310.9,201.9L311.8,202.4L312.6,202.9L313.5,203.5L314.3,204.0L314.3,204.0M320.3,207.5L321.2,208.0L322.1,208.5L322.9,209.0L323.8,209.5L324.7,210.0L325.5,210.4L326.4,210.9L327.3,211.4L328.2,211.9L329.0,212.4L329.9,212.8L330.8,213.3L331.7,213.8L332.5,214.2L332.7,214.3M338.9,217.6L339.6,217.9L340.5,218.4L341.4,218.8L342.3,219.3L343.1,219.7L344.0,220.2L344.9,220.6L345.8,221.1L346.7,221.5L347.6,221.9L348.5,222.4L349.4,222.8L350.3,223.2L351.2,223.7L351.5,223.8M357.9,226.8L358.4,227.0L359.3,227.4L360.3,227.9L361.2,228.3L362.1,228.7L363.0,229.1L363.9,229.5L364.8,229.9L365.7,230.3L366.6,230.7L367.6,231.1L368.5,231.5L369.4,231.9L370.3,232.3L370.8,232.5M377.2,235.1L377.7,235.3L378.6,235.7L379.5,236.1L380.5,236.4L381.4,236.8L382.3,237.2L383.3,237.6L384.2,237.9L385.1,238.3L386.1,238.6L387.0,239.0L387.9,239.4L388.9,239.7L389.8,240.1L390.3,240.3M396.9,242.7L397.3,242.9L398.3,243.2L399.2,243.5L400.1,243.9L401.1,244.2L402.0,244.6L403.0,244.9L403.9,245.2L404.9,245.5L405.8,245.9L406.8,246.2L407.7,246.5L408.7,246.8L409.6,247.2L410.2,247.4M416.8,249.6L417.3,249.7L418.2,250.0L419.2,250.3L420.1,250.6L421.1,250.9L422.1,251.2L423.0,251.5L424.0,251.8L424.9,252.1L425.9,252.4L426.9,252.7L427.8,253.0L428.8,253.3L429.8,253.6L430.3,253.8M436.9,255.7L437.5,255.8L438.5,256.1L439.4,256.4L440.4,256.7L441.4,256.9L442.4,257.2L443.3,257.5L444.3,257.7L445.3,258.0L446.3,258.3L447.2,258.5L448.2,258.8L449.2,259.1L450.2,259.3L450.5,259.4M457.2,261.2L458.0,261.4L459.0,261.6L460.0,261.9L460.9,262.1L461.9,262.3L462.9,262.6L463.9,262.8L464.9,263.1L465.8,263.3L466.8,263.5L467.8,263.8L468.8,264.0L469.8,264.3L470.8,264.5L470.9,264.5M477.7,266.1L478.7,266.3L479.7,266.5L480.7,266.7L481.6,267.0L482.6,267.2L483.6,267.4L484.6,267.6L485.6,267.8L486.6,268.0L487.6,268.3L488.6,268.5L489.6,268.7L490.6,268.9L491.5,269.1M498.3,270.5L498.5,270.5L499.5,270.7L500.5,270.9L501.5,271.1L502.5,271.3L503.5,271.5L504.5,271.7L505.5,271.9L506.5,272.1L507.5,272.2L508.5,272.4L509.5,272.6L510.5,272.8L511.5,273.0L512.1,273.1M519.0,274.3L519.6,274.4L520.6,274.6L521.6,274.8L522.6,275.0L523.6,275.1L524.6,275.3L525.6,275.5L526.6,275.7L527.6,275.8L528.6,276.0L529.6,276.2L530.6,276.3L531.6,276.5L532.6,276.7L532.9,276.7M539.7,277.8L540.7,277.9L541.7,278.1L542.7,278.2L543.7,278.4L544.7,278.6L545.7,278.7L546.7,278.9L547.7,279.0L548.8,279.2L549.8,279.3L550.8,279.5L551.8,279.6L552.8,279.7L553.7,279.9M560.6,280.8L560.9,280.9L561.9,281.0L562.9,281.2L563.9,281.3L564.9,281.4L565.9,281.6L567.0,281.7L568.0,281.8L569.0,282.0L570.0,282.1L571.0,282.2L572.0,282.4L573.0,282.5L574.0,282.6L574.5,282.7M581.4,283.5L582.2,283.6L583.2,283.8L584.2,283.9L585.2,284.0L586.2,284.1L587.2,284.3L588.2,284.4L589.3,284.5L590.3,284.6L591.3,284.7L592.3,284.9L593.3,285.0L594.3,285.1L595.3,285.2L595.4,285.2M602.3,286.0L602.4,286.0L603.5,286.1L604.5,286.2L605.5,286.3L606.5,286.4L607.5,286.5L608.5,286.6L609.5,286.8L610.6,286.9L611.6,287.0L612.6,287.1L613.6,287.2L614.6,287.3L615.6,287.4L616.4,287.5M623.3,288.2L623.7,288.2L624.8,288.3L625.8,288.4L626.8,288.5L627.8,288.6L628.8,288.7L629.8,288.8L630.8,288.9L631.9,289.0L632.9,289.1L633.9,289.2L634.9,289.3L635.9,289.4L636.9,289.5L637.3,289.5M644.2,290.1L645.0,290.2L646.0,290.3L647.0,290.4L648.0,290.5L649.1,290.6L650.1,290.7L651.1,290.7L652.1,290.8L653.1,290.9L654.1,291.0L655.1,291.1L656.1,291.2L657.1,291.3L658.2,291.4L658.3,291.4M665.2,291.9L666.2,292.0L667.2,292.1L668.2,292.2L669.2,292.3L670.3,292.4L671.3,292.5L672.3,292.5L673.3,292.6L674.3,292.7L675.3,292.8L676.3,292.9L677.3,292.9L678.3,293.0L679.3,293.1M686.2,293.7L686.3,293.7L687.3,293.7L688.3,293.8L689.3,293.9L690.3,294.0L691.3,294.1L692.4,294.1L693.4,294.2L694.4,294.3L695.4,294.4L696.4,294.5L697.4,294.5L698.4,294.6L699.4,294.7L700.2,294.8M707.2,295.3L707.3,295.3L708.3,295.4L709.3,295.5L710.3,295.5L711.3,295.6L712.3,295.7L713.3,295.8L714.3,295.9L715.3,295.9L716.3,296.0L717.3,296.1L718.3,296.2L719.3,296.2L720.3,296.3L721.2,296.4M728.2,296.9L728.2,296.9L729.2,297.0L730.2,297.1L731.2,297.2L732.1,297.2L733.1,297.3L734.1,297.4L735.1,297.5L736.1,297.6L737.1,297.6L738.1,297.7L739.0,297.8L740.0,297.9L741.0,297.9L742.0,298.0L742.2,298.0M749.1,298.6L749.8,298.7L750.8,298.7L751.8,298.8L752.8,298.9L753.8,299.0L754.7,299.1L755.7,299.1L756.7,299.2L757.7,299.3L758.6,299.4L759.6,299.5L760.6,299.5L761.6,299.6L762.5,299.7L763.2,299.8M770.1,300.4L770.3,300.4L771.3,300.5L772.2,300.5L773.2,300.6L774.2,300.7L775.1,300.8L776.1,300.9L777.1,301.0L778.0,301.1L779.0,301.1L779.9,301.2L780.9,301.3L781.9,301.4L782.8,301.5L783.8,301.6L784.0,301.6" stroke="#6b8e23"/>
<path d="M197.2,50.5 L197.5,51.6 L197.9,52.7 L198.2,53.8 L198.5,55.0 L198.8,56.1 L199.1,57.2 L199.5,58.3 L199.8,59.5 L200.1,60.6 L200.5,61.7 L200.8,62.8 L201.1,64.0 L201.5,65.1 L201.8,66.2 L202.1,67.3 L202.5,68.5 L202.8,69.6 L203.2,70.7 L203.5,71.8 L203.9,72.9 L204.2,74.1 L204.6,75.2 L204.9,76.3 L205.3,77.4 L205.7,78.5 L206.0,79.6 L206.4,80.8 L206.7,81.9 L207.1,83.0 L207.5,84.1 L207.9,85.2 L208.2,86.3 L208.6,87.4 L209.0,88.5 L209.4,89.7 L209.7,90.8 L210.1,91.9 L210.5,93.0 L210.9,94.1 L211.3,95.2 L211.7,96.3 L212.1,97.4 L212.5,98.5 L212.8,99.6 L213.2,100.7 L213.6,101.8 L214.0,102.9 L214.4,104.0 L214.9,105.1 L215.3,106.2 L215.7,107.3 L216.1,108.4 L216.5,109.5 L216.9,110.6 L217.3,111.7 L217.7,112.8 L218.2,113.9 L218.6,115.0 L219.0,116.1 L219.4,117.2 L219.8,118.3 L220.3,119.4 L220.7,120.5 L221.1,121.6 L221.6,122.6 L222.0,123.7 L222.4,124.8 L222.9,125.9 L223.3,127.0 L223.8,128.1 L224.2,129.2 L224.7,130.3 L225.1,131.3 L225.6,132.4 L226.0,133.5 L226.5,134.6 L226.9,135.7 L227.4,136.7 L227.8,137.8 L228.3,138.9 L228.8,140.0 L229.2,141.1 L229.7,142.1 L230.2,143.2 L230.6,144.3 L231.1,145.3 L231.6,146.4 L232.0,147.5 L232.5,148.6 L233.0,149.6 L233.5,150.7 L234.0,151.8 L234.4,152.8 L234.9,153.9 L235.4,155.0 L235.9,156.0 L236.4,157.1 L236.9,158.2 L237.4,159.2 L237.9,160.3 L238.4,161.3 L238.9,162.4 L239.4,163.5 L239.9,164.5 L240.4,165.6 L240.9,166.6 L241.4,167.7 L241.9,168.7 L242.4,169.8 L243.0,170.8 L243.5,171.9 L244.0,172.9 L244.5,174.0 L245.0,175.0 L245.6,176.1 L246.1,177.1 L246.6,178.2 L247.1,179.2 L247.7,180.3 L248.2,181.3 L248.7,182.3 L249.3,183.4 L249.8,184.4 L250.4,185.5 L250.9,186.5 L251.4,187.5 L252.0,188.6 L252.5,189.6 L253.1,190.6 L253.6,191.7 L254.2,192.7 L254.7,193.7 L255.3,194.8 L255.8,195.8 L256.4,196.8 L257.0,197.8 L257.5,198.9 L258.1,199.9 L258.7,200.9 L259.2,201.9 L259.8,203.0 L260.4,204.0 L260.9,205.0 L261.5,206.0 L262.1,207.0 L262.7,208.0 L263.3,209.1 L263.8,210.1 L264.4,211.1 L265.0,212.1 L265.6,213.1 L266.2,214.1 L266.8,215.1 L267.4,216.1 L268.0,217.1 L268.6,218.1 L269.1,219.1 L269.7,220.1 L270.3,221.1 L271.0,222.1 L271.6,223.1 L272.2,224.1 L272.8,225.1 L273.4,226.1 L274.0,227.1 L274.6,228.1 L275.2,229.1 L275.8,230.1 L276.5,231.1 L277.1,232.1 L277.7,233.1 L278.3,234.0 L278.9,235.0 L279.6,236.0 L280.2,237.0 L280.8,238.0 L281.5,238.9 L282.1,239.9 L282.7,240.9 L283.4,241.9 L284.0,242.9 L284.6,243.8 L285.3,244.8 L285.9,245.8 L286.6,246.7 L287.2,247.7 L287.9,248.7 L288.5,249.6 L289.2,250.6 L289.8,251.6 L290.5,252.5 L291.1,253.5 L291.8,254.5 L292.5,255.4 L293.1,256.4 L293.8,257.3 L294.5,258.3 L295.1,259.2 L295.8,260.2 L296.5,261.1 L297.1,262.1 L297.8,263.0 L298.5,264.0 L299.2,264.9 L299.8,265.9 L300.5,266.8 L301.2,267.8 L301.9,268.7 L302.6,269.6 L303.3,270.6 L304.0,271.5 L304.7,272.4 L305.3,273.4 L306.0,274.3 L306.7,275.2 L307.4,276.2 L308.1,277.1 L308.8,278.0 L309.5,278.9 L310.2,279.9 L311.0,280.8 L311.7,281.7 L312.4,282.6 L313.1,283.5 L313.8,284.5 L314.5,285.4 L315.2,286.3 L315.9,287.2 L316.7,288.1 L317.4,289.0 L318.1,289.9 L318.8,290.8 L319.6,291.7 L320.3,292.6 L321.0,293.5 L321.7,294.5 L322.5,295.4 L323.2,296.2 L324.0,297.1 L324.7,298.0 L325.4,298.9 L326.2,299.8 L326.9,300.7 L327.7,301.6 L328.4,302.5 L329.2,303.4 L329.9,304.3 L330.7,305.1 L331.4,306.0 L332.2,306.9 L332.9,307.8 L333.7,308.7 L334.4,309.5 L335.2,310.4 L336.0,311.3 L336.7,312.2 L337.5,313.0 L338.3,313.9 L339.0,314.8 L339.8,315.6 L340.6,316.5 L341.3,317.3 L342.1,318.2 L342.9,319.1 L343.7,319.9 L344.5,320.8 L345.2,321.6 L346.0,322.5 L346.8,323.3 L347.6,324.2 L348.4,325.0 L349.2,325.9 L350.0,326.7 L350.8,327.6 L351.6,328.4 L352.4,329.2 L353.1,330.1 L354.0,330.9 L354.8,331.7 L355.6,332.6 L356.4,333.4 L357.2,334.2 L358.0,335.1 L358.8,335.9 L359.6,336.7 L360.4,337.5 L361.2,338.4 L362.0,339.2 L362.9,340.0 L363.7,340.8 L364.5,341.6 L365.3,342.4 L366.1,343.3 L367.0,344.1 L367.8,344.9 L368.6,345.7 L369.5,346.5 L370.3,347.3 L371.1,348.1 L372.0,348.9 L372.8,349.7 L373.6,350.5 L374.5,351.3 L375.3,352.1 L376.2,352.9 L377.0,353.6 L377.9,354.4 L378.7,355.2 L379.5,356.0 L380.4,356.8 L381.3,357.6 L382.1,358.3 L383.0,359.1 L383.8,359.9 L384.7,360.7 L385.5,361.4 L386.4,362.2 L387.3,363.0 L388.1,363.7 L389.0,364.5 L389.9,365.3 L390.7,366.0 L391.6,366.8 L392.5,367.5 L393.4,368.3 L394.2,369.0 L395.1,369.8 L396.0,370.5 L396.9,371.3 L397.8,372.0 L398.6,372.8 L399.5,373.5 L400.4,374.3 L401.3,375.0 L402.2,375.7 L403.1,376.5 L404.0,377.2 L404.9,377.9 L405.8,378.7 L406.7,379.4 L407.6,380.1 L408.5,380.8 L409.4,381.6 L410.3,382.3 L411.2,383.0 L412.1,383.7 L413.0,384.4 L413.9,385.1 L414.8,385.8 L415.7,386.6 L416.6,387.3 L417.6,388.0 L418.5,388.7 L419.4,389.4 L420.3,390.1 L421.2,390.8 L422.2,391.5 L423.1,392.2 L424.0,392.8 L425.0,393.5 L425.9,394.2 L426.8,394.9 L427.7,395.6 L428.7,396.3 L429.6,397.0 L430.6,397.6 L431.5,398.3 L432.4,399.0 L433.4,399.7 L434.3,400.3 L435.3,401.0 L436.2,401.7 L437.1,402.3 L438.1,403.0 L439.0,403.7 L440.0,404.3 L440.9,405.0 L441.9,405.6 L442.9,406.3 L443.8,406.9 L444.8,407.6 L445.7,408.2 L446.7,408.9 L447.7,409.5 L448.6,410.2 L449.6,410.8 L450.5,411.5 L451.5,412.1 L452.5,412.7 L453.5,413.4 L454.4,414.0 L455.4,414.6 L456.4,415.3 L457.3,415.9 L458.3,416.5 L459.3,417.1 L460.3,417.8 L461.3,418.4 L462.2,419.0 L463.2,419.6 L464.2,420.2 L465.2,420.9 L466.2,421.5 L467.2,422.1 L468.1,422.7 L469.1,423.3 L470.1,423.9 L471.1,424.5 L472.1,425.1 L473.1,425.7 L474.1,426.3 L475.1,426.9 L476.1,427.5 L477.1,428.1 L478.1,428.7 L479.1,429.3 L480.1,429.9 L481.1,430.5 L482.1,431.0 L483.1,431.6 L484.1,432.2 L485.1,432.8 L486.1,433.4 L487.2,433.9 L488.2,434.5 L489.2,435.1 L490.2,435.7 L491.2,436.2 L492.2,436.8 L493.2,437.4 L494.3,437.9 L495.3,438.5 L496.3,439.1 L497.3,439.6 L498.3,440.2 L499.4,440.7 L500.4,441.3 L501.4,441.8 L502.4,442.4 L503.5,442.9 L504.5,443.5 L505.5,444.0 L506.6,444.6 L507.6,445.1 L508.6,445.7 L509.7,446.2 L510.7,446.7 L511.7,447.3 L512.8,447.8 L513.8,448.3 L514.9,448.9 L515.9,449.4 L516.9,449.9 L518.0,450.5 L519.0,451.0 L520.1,451.5 L521.1,452.0 L522.2,452.6 L523.2,453.1 L524.3,453.6 L525.3,454.1 L526.3,454.6 L527.4,455.1 L528.5,455.7 L529.5,456.2 L530.6,456.7 L531.6,457.2 L532.7,457.7 L533.7,458.2 L534.8,458.7 L535.8,459.2 L536.9,459.7 L538.0,460.2 L539.0,460.7 L540.1,461.2 L541.1,461.7 L542.2,462.2 L543.3,462.6 L544.3,463.1 L545.4,463.6 L546.5,464.1 L547.5,464.6 L548.6,465.1 L549.7,465.5 L550.7,466.0 L551.8,466.5 L552.9,467.0 L554.0,467.5 L555.0,467.9 L556.1,468.4 L557.2,468.9 L558.3,469.3 L559.3,469.8 L560.4,470.3 L561.5,470.7 L562.6,471.2 L563.6,471.7 L564.7,472.1 L565.8,472.6 L566.9,473.0 L568.0,473.5 L569.0,473.9 L570.1,474.4 L571.2,474.8 L572.3,475.3 L573.4,475.7 L574.5,476.2 L575.6,476.6 L576.6,477.1 L577.7,477.5 L578.8,477.9 L579.9,478.4 L581.0,478.8 L582.1,479.3 L583.2,479.7 L584.3,480.1 L585.4,480.5 L586.5,481.0 L587.6,481.4 L588.7,481.8 L589.8,482.3 L590.8,482.7 L591.9,483.1 L593.0,483.5 L594.1,483.9 L595.2,484.4 L596.3,484.8 L597.4,485.2 L598.5,485.6 L599.6,486.0 L600.7,486.4 L601.8,486.8 L602.9,487.2 L604.0,487.7 L605.2,488.1 L606.3,488.5 L607.4,488.9 L608.5,489.3 L609.6,489.7 L610.7,490.1 L611.8,490.5 L612.9,490.9 L614.0,491.2 L615.1,491.6 L616.2,492.0 L617.3,492.4 L618.4,492.8 L619.6,493.2 L620.7,493.6 L621.8,494.0 L622.9,494.4 L624.0,494.7 L625.1,495.1 L626.2,495.5 L627.3,495.9 L628.5,496.2 L629.6,496.6 L630.7,497.0 L631.8,497.4 L632.9,497.7 L634.0,498.1 L635.1,498.5 L636.3,498.8 L637.4,499.2 L638.5,499.6 L639.6,499.9 L640.7,500.3 L641.9,500.7 L643.0,501.0 L644.1,501.4 L645.2,501.7 L646.3,502.1 L647.5,502.4 L648.6,502.8 L649.7,503.1 L650.8,503.5 L651.9,503.8 L653.1,504.2 L654.2,504.5 L655.3,504.9 L656.4,505.2 L657.6,505.6 L658.7,505.9 L659.8,506.2 L660.9,506.6 L662.1,506.9 L663.2,507.3 L664.3,507.6 L665.4,507.9 L666.6,508.2 L667.7,508.6 L668.8,508.9 L670.0,509.2 L671.1,509.6 L672.2,509.9 L673.3,510.2 L674.5,510.5 L675.6,510.9 L676.7,511.2 L677.8,511.5 L679.0,511.8 L680.1,512.1 L681.2,512.4 L682.4,512.8 L683.5,513.1 L684.6,513.4 L685.8,513.7 L686.9,514.0 L688.0,514.3 L689.2,514.6 L690.3,514.9 L691.4,515.2 L692.5,515.5 L693.7,515.8 L694.8,516.1 L695.9,516.4 L697.1,516.7 L698.2,517.0 L699.3,517.3 L700.5,517.6 L701.6,517.9 L702.7,518.2 L703.9,518.5 L705.0,518.8 L706.1,519.1 L707.3,519.4 L708.4,519.7 L709.5,519.9 L710.7,520.2 L711.8,520.5 L712.9,520.8 L714.1,521.1 L715.2,521.3 L716.3,521.6 L717.5,521.9 L718.6,522.2 L719.7,522.5 L720.9,522.7 L722.0,523.0 L723.1,523.3 L724.3,523.5 L725.4,523.8 L726.5,524.1 L727.7,524.3 L728.8,524.6 L729.9,524.9 L731.1,525.1 L732.2,525.4 L733.3,525.7 L734.5,525.9 L735.6,526.2 L736.7,526.4 L737.9,526.7 L739.0,526.9 L740.1,527.2 L741.3,527.5 L742.4,527.7 L743.5,528.0 L744.7,528.2 L745.8,528.5 L746.9,528.7 L748.1,529.0 L749.2,529.2 L750.3,529.4 L751.5,529.7 L752.6,529.9 L753.7,530.2 L754.9,530.4 L756.0,530.7 L757.1,530.9 L758.3,531.1 L759.4,531.4 L760.5,531.6 L761.6,531.8 L762.8,532.1 L763.9,532.3 L765.0,532.5 L766.2,532.8 L767.3,533.0 L768.4,533.2 L769.6,533.4 L770.7,533.7 L771.8,533.9 L772.9,534.1 L774.1,534.3 L775.2,534.6 L776.3,534.8 L777.5,535.0 L778.6,535.2 L779.7,535.4 L780.8,535.7 L782.0,535.9 L783.1,536.1 L784.2,536.3 L785.4,536.5 L786.5,536.7 L787.6,536.9 L788.7,537.1 L789.9,537.3" stroke="#2e8b57"/>
<path d="M146.8,99.3L147.3,100.3L147.8,101.3L148.3,102.3L148.7,103.3L149.2,104.3L149.5,104.9M152.6,110.9L152.8,111.2L153.3,112.2L153.8,113.2L154.3,114.1L154.9,115.1L155.4,116.1L155.6,116.5M158.9,122.4L159.1,122.8L159.7,123.7L160.2,124.7L160.8,125.6L161.3,126.5L161.9,127.5L162.2,127.9M165.6,133.7L165.8,134.0L166.4,134.9L167.0,135.8L167.6,136.7L168.2,137.6L168.7,138.5L169.1,139.1M172.8,144.7L172.9,144.8L173.5,145.6L174.1,146.5L174.7,147.4L175.3,148.3L175.9,149.2L176.5,149.9M180.4,155.4L180.9,156.1L181.5,156.9L182.1,157.8L182.8,158.6L183.4,159.4L184.1,160.3L184.3,160.5M188.4,165.9L188.6,166.1L189.3,166.9L189.9,167.7L190.6,168.5L191.2,169.4L191.9,170.2L192.4,170.8M196.8,176.0L197.3,176.6L198.0,177.3L198.7,178.1L199.3,178.9L200.0,179.7L200.7,180.5L201.0,180.8M205.5,185.7L205.6,185.8L206.3,186.6L207.0,187.3L207.7,188.1L208.5,188.8L209.2,189.6L209.9,190.3L210.0,190.4M214.7,195.2L215.0,195.5L215.7,196.2L216.4,196.9L217.2,197.6L217.9,198.4L218.6,199.1L219.2,199.7M224.2,204.3L224.6,204.7L225.4,205.4L226.1,206.1L226.9,206.8L227.7,207.5L228.4,208.2L228.9,208.6M234.0,213.0L234.6,213.5L235.4,214.2L236.2,214.9L236.9,215.5L237.7,216.2L238.5,216.8L238.9,217.1M244.1,221.3L244.9,222.0L245.7,222.6L246.5,223.2L247.3,223.8L248.1,224.5L248.9,225.1L249.2,225.3M254.5,229.4L254.6,229.4L255.4,230.0L256.2,230.6L257.1,231.2L257.9,231.8L258.7,232.4L259.5,233.0L259.7,233.1M265.3,236.9L265.4,237.0L266.2,237.6L267.1,238.2L267.9,238.7L268.8,239.3L269.6,239.9L270.4,240.4L270.6,240.5M276.2,244.2L276.4,244.3L277.3,244.8L278.1,245.4L279.0,245.9L279.9,246.5L280.7,247.0L281.6,247.5L281.7,247.5M287.4,251.1L287.7,251.2L288.6,251.7L289.5,252.2L290.3,252.7L291.2,253.2L292.1,253.8L293.0,254.3M298.9,257.5L299.2,257.7L300.1,258.2L301.0,258.7L301.9,259.2L302.8,259.7L303.7,260.1L304.5,260.6M310.5,263.7L311.0,263.9L311.9,264.3L312.8,264.8L313.7,265.2L314.6,265.7L315.5,266.2L316.2,266.5M322.3,269.4L322.9,269.7L323.8,270.1L324.7,270.5L325.7,271.0L326.6,271.4L327.5,271.8L328.1,272.1M334.3,274.8L335.0,275.1L336.0,275.5L336.9,275.9L337.8,276.3L338.8,276.7L339.7,277.1L340.2,277.3M346.4,279.9L347.3,280.3L348.3,280.6L349.2,281.0L350.2,281.4L351.1,281.8L352.1,282.1L352.4,282.2M358.7,284.6L358.8,284.7L359.8,285.1L360.7,285.4L361.7,285.8L362.7,286.1L363.6,286.5L364.6,286.8L364.7,286.8M371.0,289.1L371.4,289.2L372.4,289.5L373.4,289.9L374.3,290.2L375.3,290.5L376.3,290.9L377.1,291.1M383.5,293.2L384.1,293.4L385.1,293.7L386.1,294.1L387.1,294.4L388.1,294.7L389.1,295.0L389.6,295.1M396.0,297.1L397.0,297.4L398.0,297.7L399.0,297.9L400.0,298.2L401.0,298.5L402.0,298.8L402.2,298.9M408.7,300.6L409.0,300.7L410.0,301.0L411.0,301.3L412.0,301.6L413.0,301.8L414.0,302.1L414.9,302.4M421.4,304.0L422.1,304.2L423.1,304.4L424.1,304.7L425.1,304.9L426.1,305.2L427.1,305.4L427.6,305.6M434.2,307.1L434.2,307.1L435.2,307.3L436.2,307.6L437.2,307.8L438.3,308.0L439.3,308.3L440.3,308.5L440.4,308.5M447.0,309.9L447.4,310.0L448.4,310.3L449.5,310.5L450.5,310.7L451.5,310.9L452.5,311.1L453.3,311.3M459.9,312.6L460.7,312.8L461.7,313.0L462.7,313.2L463.8,313.4L464.8,313.6L465.8,313.8L466.1,313.9M472.8,315.1L473.0,315.1L474.0,315.3L475.1,315.5L476.1,315.6L477.1,315.8L478.1,316.0L479.1,316.2M485.7,317.3L486.4,317.4L487.4,317.6L488.4,317.8L489.4,317.9L490.5,318.1L491.5,318.3L492.0,318.4M498.7,319.4L499.8,319.6L500.8,319.7L501.8,319.9L502.9,320.0L503.9,320.2L504.9,320.3L505.0,320.3M511.7,321.3L512.1,321.4L513.2,321.5L514.2,321.6L515.2,321.8L516.3,321.9L517.3,322.1L518.0,322.2M524.7,323.0L525.6,323.2L526.6,323.3L527.7,323.4L528.7,323.5L529.7,323.7L530.8,323.8L531.1,323.8M537.8,324.7L538.0,324.7L539.0,324.8L540.1,324.9L541.1,325.0L542.2,325.2L543.2,325.3L544.1,325.4M550.8,326.1L551.5,326.2L552.5,326.3L553.6,326.4L554.6,326.5L555.6,326.6L556.7,326.7L557.2,326.7M563.9,327.4L565.0,327.5L566.0,327.6L567.0,327.7L568.1,327.8L569.1,327.9L570.2,328.0L570.3,328.0M577.0,328.7L577.4,328.7L578.5,328.8L579.5,328.9L580.5,328.9L581.6,329.0L582.6,329.1L583.4,329.2M590.1,329.7L590.9,329.8L592.0,329.9L593.0,330.0L594.0,330.0L595.1,330.1L596.1,330.2L596.5,330.2M603.2,330.7L603.4,330.7L604.4,330.8L605.4,330.9L606.5,331.0L607.5,331.0L608.6,331.1L609.6,331.2M616.3,331.6L616.9,331.7L617.9,331.7L618.9,331.8L620.0,331.9L621.0,331.9L622.0,332.0L622.7,332.1M629.4,332.4L630.3,332.5L631.4,332.6L632.4,332.6L633.4,332.7L634.5,332.7L635.5,332.8L635.8,332.8M642.5,333.2L642.8,333.2L643.8,333.3L644.8,333.3L645.9,333.4L646.9,333.4L647.9,333.5L648.9,333.5M655.7,333.9L656.2,333.9L657.3,334.0L658.3,334.0L659.3,334.1L660.4,334.1L661.4,334.2L662.0,334.2M668.8,334.5L669.6,334.6L670.7,334.6L671.7,334.7L672.7,334.7L673.8,334.8L674.8,334.8L675.2,334.8M681.9,335.1L682.0,335.1L683.1,335.2L684.1,335.2L685.1,335.3L686.1,335.3L687.2,335.3L688.2,335.4L688.3,335.4M695.0,335.7L695.4,335.7L696.4,335.7L697.5,335.8L698.5,335.8L699.5,335.9L700.5,335.9L701.4,335.9M708.1,336.2L708.7,336.2L709.8,336.3L710.8,336.3L711.8,336.4L712.8,336.4L713.9,336.4L714.5,336.5M721.3,336.7L722.1,336.8L723.1,336.8L724.1,336.9L725.1,336.9L726.1,336.9L727.2,337.0L727.7,337.0M734.4,337.3L735.3,337.3L736.3,337.3L737.4,337.4L738.4,337.4L739.4,337.5L740.4,337.5L740.8,337.5M747.5,337.8L748.5,337.8L749.6,337.9L750.6,337.9L751.6,338.0L752.6,338.0L753.6,338.0L753.9,338.0M760.6,338.3L760.7,338.3L761.7,338.4L762.7,338.4L763.7,338.5L764.8,338.5L765.8,338.6L766.8,338.6L767.0,338.6M773.8,338.9L773.8,338.9L774.8,339.0L775.9,339.0L776.9,339.1L777.9,339.1L778.9,339.2L779.9,339.2L780.1,339.2M786.9,339.6L786.9,339.6L787.9,339.6L788.9,339.7" stroke="#00008b"/>
<path d="M149.5,128.1L149.8,128.2L150.7,128.7L151.6,129.2L152.4,129.7L153.3,130.2L154.1,130.7L154.9,131.3L155.7,131.9L156.5,132.4L157.2,133.0L158.0,133.6L158.7,134.3L159.5,134.9L160.2,135.5L160.9,136.1M166.1,140.6L166.1,140.6L166.8,141.2L167.6,141.9L168.4,142.5L169.2,143.1L170.1,143.7L170.9,144.3L171.7,144.9L172.6,145.4L173.5,146.0L174.3,146.6L175.2,147.1L176.1,147.7L177.0,148.2L177.6,148.5M183.5,152.0L184.0,152.3L184.8,152.8L185.7,153.3L186.5,153.7L187.3,154.2L188.1,154.7L188.9,155.3L189.7,155.8L190.4,156.4L191.2,156.9L191.9,157.5L192.6,158.2L193.3,158.8L194.0,159.5L194.7,160.2L194.7,160.3M199.3,165.4L199.8,166.0L200.4,166.8L201.1,167.6L201.7,168.4L202.3,169.1L202.9,169.9L203.6,170.7L204.2,171.4L204.8,172.2L205.5,173.0L206.1,173.7L206.8,174.5L207.4,175.2L208.1,176.0L208.4,176.3M213.2,181.3L213.6,181.7L214.3,182.5L215.0,183.2L215.7,183.8L216.4,184.5L217.1,185.2L217.8,185.9L218.6,186.6L219.3,187.3L220.0,187.9L220.8,188.6L221.5,189.3L222.3,189.9L223.0,190.6L223.5,191.0M228.9,195.5L229.1,195.7L229.9,196.3L230.7,197.0L231.5,197.6L232.3,198.2L233.0,198.8L233.8,199.4L234.6,200.0L235.4,200.6L236.2,201.2L237.0,201.8L237.8,202.4L238.6,203.0L239.4,203.6L240.1,204.1M245.8,208.1L245.9,208.2L246.7,208.7L247.6,209.3L248.4,209.8L249.2,210.4L250.0,210.9L250.9,211.5L251.7,212.0L252.5,212.6L253.3,213.1L254.2,213.6L255.0,214.2L255.8,214.7L256.7,215.2L257.5,215.8L257.7,215.9M263.6,219.5L264.2,219.9L265.0,220.4L265.9,220.9L266.7,221.4L267.6,221.9L268.4,222.4L269.3,222.9L270.1,223.4L271.0,223.9L271.8,224.3L272.7,224.8L273.5,225.3L274.4,225.8L275.2,226.3L275.9,226.7M282.0,230.0L282.1,230.1L282.9,230.6L283.8,231.0L284.7,231.5L285.5,232.0L286.4,232.4L287.3,232.9L288.1,233.4L289.0,233.8L289.9,234.3L290.7,234.7L291.6,235.2L292.5,235.7L293.3,236.1L294.2,236.6L294.5,236.7M300.7,239.9L301.2,240.2L302.1,240.7L303.0,241.1L303.9,241.6L304.8,242.0L305.6,242.5L306.5,242.9L307.4,243.4L308.3,243.8L309.2,244.3L310.1,244.7L311.0,245.2L311.8,245.6L312.7,246.0L313.3,246.3M319.5,249.4L319.9,249.6L320.8,250.0L321.7,250.5L322.6,250.9L323.5,251.4L324.4,251.8L325.3,252.2L326.2,252.7L327.1,253.1L328.0,253.5L328.9,254.0L329.8,254.4L330.7,254.8L331.6,255.2L332.3,255.6M338.6,258.5L338.9,258.6L339.8,259.0L340.7,259.4L341.6,259.8L342.5,260.2L343.4,260.6L344.3,261.0L345.3,261.4L346.2,261.8L347.1,262.2L348.0,262.6L348.9,263.0L349.8,263.4L350.8,263.8L351.7,264.1M358.1,266.8L358.1,266.8L359.1,267.1L360.0,267.5L360.9,267.9L361.8,268.2L362.8,268.6L363.7,268.9L364.6,269.3L365.6,269.6L366.5,270.0L367.4,270.3L368.4,270.7L369.3,271.0L370.2,271.4L371.1,271.7L371.3,271.8M377.9,274.1L378.6,274.3L379.6,274.7L380.5,275.0L381.4,275.3L382.4,275.6L383.3,275.9L384.3,276.3L385.2,276.6L386.1,276.9L387.1,277.2L388.0,277.5L389.0,277.8L389.9,278.1L390.9,278.4L391.4,278.6M398.0,280.6L398.4,280.7L399.4,281.0L400.3,281.3L401.3,281.6L402.2,281.8L403.2,282.1L404.1,282.4L405.1,282.7L406.0,282.9L407.0,283.2L407.9,283.5L408.9,283.7L409.8,284.0L410.8,284.3L411.7,284.5M418.4,286.3L419.4,286.6L420.3,286.8L421.3,287.1L422.3,287.3L423.2,287.5L424.2,287.8L425.1,288.0L426.1,288.3L427.1,288.5L428.0,288.7L429.0,289.0L429.9,289.2L430.9,289.4L431.9,289.6L432.0,289.6M438.8,291.2L439.6,291.4L440.6,291.6L441.5,291.8L442.5,292.1L443.5,292.3L444.4,292.5L445.4,292.7L446.4,292.9L447.3,293.1L448.3,293.3L449.3,293.5L450.2,293.7L451.2,293.9L452.2,294.1L452.5,294.2M459.3,295.5L459.9,295.6L460.9,295.8L461.9,296.0L462.9,296.2L463.8,296.4L464.8,296.5L465.8,296.7L466.8,296.9L467.7,297.1L468.7,297.2L469.7,297.4L470.7,297.6L471.6,297.8L472.6,297.9L473.1,298.0M480.0,299.2L480.4,299.3L481.4,299.4L482.4,299.6L483.4,299.7L484.4,299.9L485.3,300.0L486.3,300.2L487.3,300.4L488.3,300.5L489.2,300.7L490.2,300.8L491.2,301.0L492.2,301.1L493.2,301.3L493.8,301.4M500.7,302.3L501.0,302.4L502.0,302.5L503.0,302.7L504.0,302.8L505.0,302.9L505.9,303.1L506.9,303.2L507.9,303.3L508.9,303.5L509.9,303.6L510.9,303.7L511.8,303.8L512.8,304.0L513.8,304.1L514.6,304.2M521.5,305.1L521.7,305.1L522.7,305.2L523.7,305.3L524.7,305.4L525.6,305.5L526.6,305.7L527.6,305.8L528.6,305.9L529.6,306.0L530.6,306.1L531.6,306.2L532.5,306.3L533.5,306.4L534.5,306.5L535.4,306.7M542.3,307.4L542.4,307.4L543.4,307.5L544.4,307.6L545.4,307.7L546.4,307.8L547.4,307.9L548.3,308.0L549.3,308.1L550.3,308.2L551.3,308.3L552.3,308.4L553.3,308.5L554.3,308.6L555.3,308.7L556.2,308.8L556.3,308.8M563.2,309.4L563.2,309.4L564.1,309.5L565.1,309.6L566.1,309.7L567.1,309.8L568.1,309.8L569.1,309.9L570.1,310.0L571.1,310.1L572.1,310.2L573.0,310.3L574.0,310.3L575.0,310.4L576.0,310.5L577.0,310.6L577.2,310.6M584.1,311.1L584.9,311.2L585.9,311.3L586.9,311.4L587.9,311.4L588.9,311.5L589.8,311.6L590.8,311.7L591.8,311.7L592.8,311.8L593.8,311.9L594.8,312.0L595.8,312.0L596.8,312.1L597.8,312.2L598.1,312.2M605.0,312.6L605.7,312.7L606.7,312.8L607.7,312.8L608.6,312.9L609.6,313.0L610.6,313.0L611.6,313.1L612.6,313.1L613.6,313.2L614.6,313.3L615.6,313.3L616.6,313.4L617.6,313.4L618.5,313.5L619.0,313.6M625.9,313.9L626.5,314.0L627.4,314.0L628.4,314.1L629.4,314.1L630.4,314.2L631.4,314.2L632.4,314.3L633.4,314.3L634.4,314.4L635.4,314.4L636.4,314.5L637.3,314.5L638.3,314.6L639.3,314.6L639.9,314.7M646.9,315.0L647.2,315.0L648.2,315.1L649.2,315.1L650.2,315.2L651.2,315.2L652.2,315.2L653.2,315.3L654.2,315.3L655.2,315.4L656.2,315.4L657.2,315.5L658.1,315.5L659.1,315.5L660.1,315.6L660.9,315.6M667.8,315.9L668.1,315.9L669.0,315.9L670.0,316.0L671.0,316.0L672.0,316.0L673.0,316.1L674.0,316.1L675.0,316.2L676.0,316.2L677.0,316.2L678.0,316.3L679.0,316.3L679.9,316.3L680.9,316.4L681.8,316.4M688.7,316.6L688.9,316.6L689.9,316.7L690.8,316.7L691.8,316.7L692.8,316.7L693.8,316.8L694.8,316.8L695.8,316.8L696.8,316.9L697.8,316.9L698.8,316.9L699.8,316.9L700.8,317.0L701.7,317.0L702.7,317.0L702.8,317.0M709.7,317.2L710.7,317.2L711.7,317.3L712.6,317.3L713.6,317.3L714.6,317.3L715.6,317.4L716.6,317.4L717.6,317.4L718.6,317.4L719.6,317.5L720.6,317.5L721.6,317.5L722.6,317.5L723.6,317.5L723.7,317.5M730.7,317.7L731.5,317.7L732.5,317.7L733.5,317.7L734.5,317.8L735.5,317.8L736.4,317.8L737.4,317.8L738.4,317.8L739.4,317.9L740.4,317.9L741.4,317.9L742.4,317.9L743.4,317.9L744.4,318.0L744.7,318.0M751.6,318.1L752.3,318.1L753.3,318.1L754.3,318.1L755.3,318.1L756.3,318.2L757.3,318.2L758.3,318.2L759.3,318.2L760.2,318.2L761.2,318.2L762.2,318.2L763.2,318.3L764.2,318.3L765.2,318.3L765.7,318.3M772.6,318.4L773.1,318.4L774.1,318.4L775.1,318.4L776.1,318.4L777.1,318.5L778.1,318.5L779.1,318.5L780.1,318.5L781.1,318.5L782.1,318.5L783.1,318.5L784.1,318.6L785.0,318.6L786.0,318.6L786.6,318.6" stroke="#8b4513"/>
<path d="M149.4,129.6L149.7,130.5L149.9,131.5L150.2,132.6L150.5,133.7L150.7,134.7L151.0,135.8M152.7,142.3L153.0,143.2L153.3,144.3L153.6,145.3L153.9,146.4L154.2,147.4L154.6,148.4M156.6,154.9L156.9,155.8L157.2,156.8L157.6,157.9L158.0,158.9L158.3,160.0L158.7,160.9M161.0,167.2L161.3,168.2L161.7,169.2L162.1,170.3L162.5,171.3L163.0,172.3L163.4,173.2M165.9,179.4L166.3,180.4L166.8,181.5L167.2,182.5L167.7,183.5L168.1,184.5L168.5,185.3M171.3,191.4L171.4,191.5L171.9,192.5L172.4,193.5L172.8,194.5L173.3,195.5L173.8,196.4L174.2,197.1M177.3,203.1L177.4,203.3L177.9,204.3L178.4,205.3L179.0,206.2L179.5,207.2L180.0,208.2L180.6,209.1L180.6,209.1M184.2,215.5L184.4,215.9L185.0,216.8L185.6,217.8L186.1,218.7L186.7,219.7L187.3,220.6L187.7,221.3M191.6,227.5L192.0,228.1L192.6,229.1L193.2,230.0L193.8,230.9L194.5,231.8L195.1,232.8L195.4,233.2M199.5,239.2L200.1,240.1L200.8,241.0L201.4,241.9L202.1,242.8L202.7,243.7L203.4,244.6L203.6,244.8M207.9,250.6L208.1,250.8L208.8,251.7L209.5,252.5L210.1,253.4L210.8,254.3L211.5,255.2L212.2,256.0M216.8,261.6L217.2,262.0L217.9,262.9L218.6,263.7L219.3,264.6L220.0,265.4L220.8,266.3L221.0,266.5M225.5,271.6L225.9,272.1L226.7,272.9L227.4,273.7L228.2,274.5L228.9,275.4L229.7,276.2L229.9,276.4M234.6,281.3L235.1,281.8L235.9,282.6L236.6,283.4L237.4,284.1L238.2,284.9L239.0,285.7L239.2,285.9M244.1,290.6L244.6,291.1L245.4,291.9L246.2,292.6L247.0,293.4L247.8,294.1L248.7,294.9L248.8,295.0M253.9,299.6L254.4,300.1L255.3,300.8L256.1,301.5L256.9,302.2L257.8,303.0L258.6,303.7L258.7,303.8M264.0,308.1L264.6,308.6L265.4,309.3L266.3,310.0L267.2,310.7L268.0,311.4L268.8,312.0M274.0,316.0L274.2,316.1L275.0,316.7L275.9,317.4L276.8,318.1L277.7,318.7L278.6,319.4L279.0,319.6M284.3,323.4L284.9,323.8L285.8,324.5L286.7,325.1L287.6,325.7L288.5,326.3L289.4,326.9L289.4,326.9M294.8,330.5L294.9,330.6L295.8,331.2L296.8,331.8L297.7,332.4L298.6,333.0L299.5,333.5L300.1,333.8M305.6,337.3L306.1,337.6L307.0,338.1L308.0,338.7L308.9,339.3L309.9,339.8L310.8,340.4L310.9,340.4M316.6,343.6L317.5,344.2L318.5,344.7L319.4,345.2L320.4,345.8L321.4,346.3L322.2,346.8M328.3,350.0L329.1,350.4L330.1,350.9L331.1,351.4L332.1,351.9L333.1,352.4L334.0,352.9L334.1,352.9M340.2,355.9L340.9,356.3L341.9,356.8L342.9,357.2L343.9,357.7L344.9,358.2L345.9,358.6L346.1,358.7M352.3,361.5L352.9,361.8L353.9,362.3L354.9,362.7L355.9,363.1L357.0,363.6L358.0,364.0L358.2,364.1M364.5,366.8L365.1,367.0L366.1,367.4L367.1,367.8L368.1,368.2L369.1,368.6L370.2,369.0L370.5,369.1M376.8,371.6L377.3,371.8L378.3,372.2L379.4,372.6L380.4,373.0L381.4,373.4L382.5,373.8L382.8,373.9M389.2,376.2L389.7,376.4L390.7,376.7L391.8,377.1L392.8,377.5L393.8,377.8L394.9,378.2L395.3,378.3M401.8,380.4L402.2,380.6L403.2,380.9L404.3,381.3L405.3,381.6L406.3,381.9L407.4,382.3L407.9,382.4M414.4,384.4L414.7,384.5L415.8,384.8L416.8,385.2L417.9,385.5L418.9,385.8L420.0,386.1L420.6,386.3M427.3,388.2L427.4,388.2L428.4,388.5L429.5,388.8L430.5,389.1L431.6,389.4L432.7,389.7L433.5,390.0M440.2,391.7L441.2,392.0L442.2,392.2L443.3,392.5L444.3,392.8L445.4,393.1L446.5,393.3L446.5,393.3M453.2,395.1L453.9,395.2L455.0,395.5L456.1,395.8L457.2,396.0L458.2,396.3L459.3,396.5L459.5,396.6M466.2,398.2L466.8,398.3L467.9,398.6L469.0,398.8L470.0,399.1L471.1,399.3L472.2,399.6L472.4,399.6M478.9,401.2L479.7,401.3L480.8,401.6L481.9,401.8L483.0,402.0L484.0,402.3L485.1,402.5L485.2,402.5M491.7,404.0L492.7,404.2L493.8,404.4L494.9,404.7L496.0,404.9L497.0,405.1L497.9,405.4M504.5,406.8L504.6,406.8L505.7,407.0L506.8,407.2L507.9,407.5L509.0,407.7L510.1,407.9L510.7,408.1M517.3,409.4L517.7,409.5L518.8,409.8L519.9,410.0L521.0,410.2L522.1,410.5L523.2,410.7L523.5,410.8M530.1,412.1L530.8,412.3L531.9,412.5L533.0,412.7L534.1,412.9L535.2,413.1L536.3,413.4L536.3,413.4M542.9,414.7L544.0,414.9L545.1,415.1L546.1,415.3L547.2,415.5L548.3,415.8L549.2,416.0M555.8,417.2L556.0,417.2L557.1,417.5L558.2,417.7L559.3,417.9L560.4,418.1L561.5,418.3L562.0,418.4M568.7,419.6L569.2,419.7L570.3,419.9L571.4,420.1L572.5,420.4L573.6,420.6L574.7,420.8L574.9,420.8M581.5,422.0L582.4,422.1L583.5,422.3L584.6,422.5L585.7,422.7L586.8,422.9L587.8,423.1M594.4,424.3L594.6,424.3L595.7,424.5L596.8,424.7L597.9,424.8L599.0,425.0L600.1,425.2L600.7,425.3M607.3,426.4L607.8,426.5L608.9,426.7L610.0,426.9L611.1,427.0L612.2,427.2L613.3,427.4L613.6,427.5M620.3,428.5L621.0,428.6L622.1,428.8L623.2,429.0L624.3,429.1L625.4,429.3L626.5,429.5L626.5,429.5M633.2,430.5L633.2,430.5L634.3,430.6L635.4,430.8L636.5,430.9L637.6,431.1L638.7,431.3L639.5,431.4M646.1,432.3L646.4,432.3L647.5,432.5L648.6,432.7L649.7,432.8L650.8,433.0L651.9,433.1L652.4,433.1M659.1,434.1L659.6,434.1L660.7,434.3L661.8,434.4L662.9,434.5L664.0,434.7L665.1,434.8L665.4,434.9M672.1,435.7L672.8,435.8L673.9,435.9L675.0,436.0L676.1,436.2L677.2,436.3L678.3,436.4L678.4,436.4M685.1,437.2L686.0,437.3L687.1,437.4L688.2,437.6L689.3,437.7L690.4,437.8L691.4,437.9L691.4,437.9M698.1,438.6L699.1,438.7L700.2,438.9L701.3,439.0L702.4,439.1L703.5,439.2L704.4,439.3M711.1,440.0L712.2,440.1L713.3,440.2L714.4,440.3L715.5,440.4L716.6,440.5L717.5,440.6M724.2,441.2L724.2,441.2L725.3,441.3L726.4,441.4L727.5,441.5L728.6,441.6L729.7,441.7L730.6,441.8M737.3,442.3L737.3,442.3L738.3,442.4L739.4,442.5L740.5,442.6L741.6,442.7L742.7,442.8L743.7,442.8M750.4,443.3L751.3,443.4L752.4,443.5L753.5,443.6L754.6,443.7L755.6,443.7L756.7,443.8L756.8,443.8M763.5,444.3L764.3,444.3L765.3,444.4L766.4,444.5L767.5,444.6L768.5,444.6L769.6,444.7L769.9,444.7M776.6,445.2L777.1,445.2L778.2,445.2L779.3,445.3L780.3,445.4L781.4,445.4L782.5,445.5L783.0,445.5" stroke="#9932cc"/>
<path d="M148.4,190.0 L148.9,190.9 L149.4,191.9 L149.9,192.9 L150.3,193.9 L150.8,194.8 L151.3,195.8 L151.8,196.7 L152.3,197.7 L152.8,198.7 L153.3,199.6 L153.8,200.6 L154.4,201.5 L154.9,202.4 L155.4,203.4 L155.9,204.3 L156.4,205.3 L156.9,206.2 L157.5,207.1 L158.0,208.0 L158.5,209.0 L159.1,209.9 L159.6,210.8 L160.2,211.7 L160.7,212.6 L161.2,213.5 L161.8,214.4 L162.3,215.3 L162.9,216.2 L163.5,217.1 L164.0,218.0 L164.6,218.9 L165.2,219.8 L165.7,220.7 L166.3,221.6 L166.9,222.4 L167.4,223.3 L168.0,224.2 L168.6,225.1 L169.2,225.9 L169.8,226.8 L170.4,227.7 L171.0,228.5 L171.6,229.4 L172.2,230.2 L172.8,231.1 L173.4,231.9 L174.0,232.8 L174.6,233.6 L175.2,234.4 L175.8,235.3 L176.4,236.1 L177.0,236.9 L177.6,237.8 L178.3,238.6 L178.9,239.4 L179.5,240.2 L180.1,241.1 L180.8,241.9 L181.4,242.7 L182.1,243.5 L182.7,244.3 L183.3,245.1 L184.0,245.9 L184.6,246.7 L185.3,247.5 L185.9,248.3 L186.6,249.1 L187.2,249.9 L187.9,250.7 L188.6,251.4 L189.2,252.2 L189.9,253.0 L190.6,253.8 L191.2,254.5 L191.9,255.3 L192.6,256.1 L193.3,256.8 L193.9,257.6 L194.6,258.4 L195.3,259.1 L196.0,259.9 L196.7,260.6 L197.4,261.4 L198.1,262.1 L198.8,262.8 L199.5,263.6 L200.2,264.3 L200.9,265.1 L201.6,265.8 L202.3,266.5 L203.0,267.2 L203.7,268.0 L204.4,268.7 L205.1,269.4 L205.8,270.1 L206.6,270.8 L207.3,271.6 L208.0,272.3 L208.7,273.0 L209.5,273.7 L210.2,274.4 L210.9,275.1 L211.7,275.8 L212.4,276.5 L213.1,277.2 L213.9,277.8 L214.6,278.5 L215.4,279.2 L216.1,279.9 L216.9,280.6 L217.6,281.3 L218.4,281.9 L219.1,282.6 L219.9,283.3 L220.6,283.9 L221.4,284.6 L222.2,285.3 L222.9,285.9 L223.7,286.6 L224.5,287.2 L225.2,287.9 L226.0,288.5 L226.8,289.2 L227.5,289.8 L228.3,290.5 L229.1,291.1 L229.9,291.7 L230.7,292.4 L231.5,293.0 L232.2,293.6 L233.0,294.3 L233.8,294.9 L234.6,295.5 L235.4,296.1 L236.2,296.8 L237.0,297.4 L237.8,298.0 L238.6,298.6 L239.4,299.2 L240.2,299.8 L241.0,300.4 L241.8,301.0 L242.6,301.6 L243.5,302.2 L244.3,302.8 L245.1,303.4 L245.9,304.0 L246.7,304.6 L247.5,305.2 L248.4,305.8 L249.2,306.3 L250.0,306.9 L250.8,307.5 L251.7,308.1 L252.5,308.7 L253.3,309.2 L254.2,309.8 L255.0,310.4 L255.8,310.9 L256.7,311.5 L257.5,312.0 L258.4,312.6 L259.2,313.2 L260.0,313.7 L260.9,314.3 L261.7,314.8 L262.6,315.4 L263.4,315.9 L264.3,316.4 L265.1,317.0 L266.0,317.5 L266.9,318.1 L267.7,318.6 L268.6,319.1 L269.4,319.7 L270.3,320.2 L271.2,320.7 L272.0,321.2 L272.9,321.7 L273.8,322.3 L274.6,322.8 L275.5,323.3 L276.4,323.8 L277.3,324.3 L278.1,324.8 L279.0,325.3 L279.9,325.8 L280.8,326.3 L281.7,326.8 L282.5,327.3 L283.4,327.8 L284.3,328.3 L285.2,328.8 L286.1,329.3 L287.0,329.8 L287.9,330.3 L288.8,330.8 L289.6,331.2 L290.5,331.7 L291.4,332.2 L292.3,332.7 L293.2,333.1 L294.1,333.6 L295.0,334.1 L295.9,334.6 L296.8,335.0 L297.7,335.5 L298.6,335.9 L299.5,336.4 L300.5,336.9 L301.4,337.3 L302.3,337.8 L303.2,338.2 L304.1,338.7 L305.0,339.1 L305.9,339.6 L306.8,340.0 L307.8,340.5 L308.7,340.9 L309.6,341.3 L310.5,341.8 L311.4,342.2 L312.4,342.6 L313.3,343.1 L314.2,343.5 L315.1,343.9 L316.1,344.3 L317.0,344.8 L317.9,345.2 L318.8,345.6 L319.8,346.0 L320.7,346.4 L321.6,346.9 L322.6,347.3 L323.5,347.7 L324.4,348.1 L325.4,348.5 L326.3,348.9 L327.2,349.3 L328.2,349.7 L329.1,350.1 L330.1,350.5 L331.0,350.9 L331.9,351.3 L332.9,351.7 L333.8,352.1 L334.8,352.5 L335.7,352.8 L336.7,353.2 L337.6,353.6 L338.6,354.0 L339.5,354.4 L340.5,354.7 L341.4,355.1 L342.4,355.5 L343.3,355.9 L344.3,356.2 L345.2,356.6 L346.2,357.0 L347.1,357.3 L348.1,357.7 L349.1,358.1 L350.0,358.4 L351.0,358.8 L351.9,359.1 L352.9,359.5 L353.8,359.9 L354.8,360.2 L355.8,360.6 L356.7,360.9 L357.7,361.2 L358.7,361.6 L359.6,361.9 L360.6,362.3 L361.6,362.6 L362.5,363.0 L363.5,363.3 L364.5,363.6 L365.4,364.0 L366.4,364.3 L367.4,364.6 L368.3,365.0 L369.3,365.3 L370.3,365.6 L371.2,365.9 L372.2,366.3 L373.2,366.6 L374.2,366.9 L375.1,367.2 L376.1,367.5 L377.1,367.9 L378.1,368.2 L379.0,368.5 L380.0,368.8 L381.0,369.1 L382.0,369.4 L382.9,369.7 L383.9,370.0 L384.9,370.3 L385.9,370.6 L386.8,370.9 L387.8,371.2 L388.8,371.5 L389.8,371.8 L390.8,372.1 L391.7,372.4 L392.7,372.7 L393.7,373.0 L394.7,373.3 L395.7,373.6 L396.7,373.8 L397.6,374.1 L398.6,374.4 L399.6,374.7 L400.6,375.0 L401.6,375.2 L402.6,375.5 L403.5,375.8 L404.5,376.1 L405.5,376.3 L406.5,376.6 L407.5,376.9 L408.5,377.1 L409.5,377.4 L410.5,377.7 L411.4,377.9 L412.4,378.2 L413.4,378.5 L414.4,378.7 L415.4,379.0 L416.4,379.2 L417.4,379.5 L418.4,379.8 L419.4,380.0 L420.4,380.3 L421.4,380.5 L422.3,380.8 L423.3,381.0 L424.3,381.3 L425.3,381.5 L426.3,381.7 L427.3,382.0 L428.3,382.2 L429.3,382.5 L430.3,382.7 L431.3,382.9 L432.3,383.2 L433.3,383.4 L434.3,383.7 L435.3,383.9 L436.3,384.1 L437.3,384.3 L438.3,384.6 L439.3,384.8 L440.3,385.0 L441.3,385.3 L442.3,385.5 L443.3,385.7 L444.3,385.9 L445.3,386.1 L446.3,386.4 L447.3,386.6 L448.3,386.8 L449.3,387.0 L450.3,387.2 L451.3,387.4 L452.3,387.7 L453.3,387.9 L454.3,388.1 L455.3,388.3 L456.3,388.5 L457.3,388.7 L458.3,388.9 L459.3,389.1 L460.3,389.3 L461.3,389.5 L462.3,389.7 L463.3,389.9 L464.3,390.1 L465.4,390.3 L466.4,390.5 L467.4,390.7 L468.4,390.9 L469.4,391.1 L470.4,391.3 L471.4,391.5 L472.4,391.7 L473.4,391.8 L474.4,392.0 L475.4,392.2 L476.4,392.4 L477.5,392.6 L478.5,392.8 L479.5,393.0 L480.5,393.1 L481.5,393.3 L482.5,393.5 L483.5,393.7 L484.5,393.9 L485.5,394.0 L486.5,394.2 L487.6,394.4 L488.6,394.6 L489.6,394.7 L490.6,394.9 L491.6,395.1 L492.6,395.2 L493.6,395.4 L494.7,395.6 L495.7,395.7 L496.7,395.9 L497.7,396.1 L498.7,396.2 L499.7,396.4 L500.7,396.6 L501.8,396.7 L502.8,396.9 L503.8,397.0 L504.8,397.2 L505.8,397.4 L506.8,397.5 L507.8,397.7 L508.9,397.8 L509.9,398.0 L510.9,398.1 L511.9,398.3 L512.9,398.4 L513.9,398.6 L515.0,398.7 L516.0,398.9 L517.0,399.0 L518.0,399.2 L519.0,399.3 L520.0,399.5 L521.1,399.6 L522.1,399.8 L523.1,399.9 L524.1,400.0 L525.1,400.2 L526.2,400.3 L527.2,400.5 L528.2,400.6 L529.2,400.7 L530.2,400.9 L531.3,401.0 L532.3,401.2 L533.3,401.3 L534.3,401.4 L535.3,401.6 L536.4,401.7 L537.4,401.8 L538.4,402.0 L539.4,402.1 L540.4,402.2 L541.5,402.3 L542.5,402.5 L543.5,402.6 L544.5,402.7 L545.5,402.9 L546.6,403.0 L547.6,403.1 L548.6,403.2 L549.6,403.4 L550.7,403.5 L551.7,403.6 L552.7,403.7 L553.7,403.8 L554.7,404.0 L555.8,404.1 L556.8,404.2 L557.8,404.3 L558.8,404.4 L559.9,404.6 L560.9,404.7 L561.9,404.8 L562.9,404.9 L563.9,405.0 L565.0,405.1 L566.0,405.3 L567.0,405.4 L568.0,405.5 L569.1,405.6 L570.1,405.7 L571.1,405.8 L572.1,405.9 L573.2,406.0 L574.2,406.1 L575.2,406.2 L576.2,406.4 L577.3,406.5 L578.3,406.6 L579.3,406.7 L580.3,406.8 L581.4,406.9 L582.4,407.0 L583.4,407.1 L584.4,407.2 L585.4,407.3 L586.5,407.4 L587.5,407.5 L588.5,407.6 L589.5,407.7 L590.6,407.8 L591.6,407.9 L592.6,408.0 L593.6,408.1 L594.7,408.2 L595.7,408.3 L596.7,408.4 L597.7,408.5 L598.8,408.6 L599.8,408.7 L600.8,408.8 L601.8,408.9 L602.9,409.0 L603.9,409.1 L604.9,409.2 L605.9,409.3 L607.0,409.4 L608.0,409.5 L609.0,409.6 L610.0,409.6 L611.1,409.7 L612.1,409.8 L613.1,409.9 L614.1,410.0 L615.2,410.1 L616.2,410.2 L617.2,410.3 L618.2,410.4 L619.2,410.5 L620.3,410.6 L621.3,410.6 L622.3,410.7 L623.3,410.8 L624.4,410.9 L625.4,411.0 L626.4,411.1 L627.4,411.2 L628.5,411.3 L629.5,411.3 L630.5,411.4 L631.5,411.5 L632.6,411.6 L633.6,411.7 L634.6,411.8 L635.6,411.9 L636.7,411.9 L637.7,412.0 L638.7,412.1 L639.7,412.2 L640.7,412.3 L641.8,412.4 L642.8,412.5 L643.8,412.5 L644.8,412.6 L645.9,412.7 L646.9,412.8 L647.9,412.9 L648.9,413.0 L649.9,413.0 L651.0,413.1 L652.0,413.2 L653.0,413.3 L654.0,413.4 L655.1,413.4 L656.1,413.5 L657.1,413.6 L658.1,413.7 L659.1,413.8 L660.2,413.8 L661.2,413.9 L662.2,414.0 L663.2,414.1 L664.2,414.2 L665.3,414.2 L666.3,414.3 L667.3,414.4 L668.3,414.5 L669.3,414.6 L670.4,414.6 L671.4,414.7 L672.4,414.8 L673.4,414.9 L674.4,415.0 L675.5,415.0 L676.5,415.1 L677.5,415.2 L678.5,415.3 L679.5,415.4 L680.5,415.4 L681.6,415.5 L682.6,415.6 L683.6,415.7 L684.6,415.8 L685.6,415.8 L686.7,415.9 L687.7,416.0 L688.7,416.1 L689.7,416.2 L690.7,416.2 L691.7,416.3 L692.8,416.4 L693.8,416.5 L694.8,416.5 L695.8,416.6 L696.8,416.7 L697.8,416.8 L698.8,416.9 L699.9,416.9 L700.9,417.0 L701.9,417.1 L702.9,417.2 L703.9,417.3 L704.9,417.3 L705.9,417.4 L707.0,417.5 L708.0,417.6 L709.0,417.7 L710.0,417.7 L711.0,417.8 L712.0,417.9 L713.0,418.0 L714.0,418.1 L715.1,418.2 L716.1,418.2 L717.1,418.3 L718.1,418.4 L719.1,418.5 L720.1,418.6 L721.1,418.6 L722.1,418.7 L723.1,418.8 L724.1,418.9 L725.2,419.0 L726.2,419.1 L727.2,419.1 L728.2,419.2 L729.2,419.3 L730.2,419.4 L731.2,419.5 L732.2,419.6 L733.2,419.6 L734.2,419.7 L735.2,419.8 L736.2,419.9 L737.2,420.0 L738.3,420.1 L739.3,420.2 L740.3,420.2 L741.3,420.3 L742.3,420.4 L743.3,420.5 L744.3,420.6 L745.3,420.7 L746.3,420.8 L747.3,420.9 L748.3,421.0 L749.3,421.0 L750.3,421.1 L751.3,421.2 L752.3,421.3 L753.3,421.4 L754.3,421.5 L755.3,421.6 L756.3,421.7 L757.3,421.8 L758.3,421.9 L759.3,422.0 L760.3,422.0 L761.3,422.1 L762.3,422.2 L763.3,422.3 L764.3,422.4 L765.3,422.5 L766.3,422.6 L767.3,422.7 L768.3,422.8 L769.3,422.9 L770.3,423.0 L771.3,423.1 L772.3,423.2 L773.3,423.3 L774.3,423.4 L775.3,423.5 L776.2,423.6 L777.2,423.7 L778.2,423.8 L779.2,423.9 L780.2,424.0 L781.2,424.1 L782.2,424.2 L783.2,424.3 L784.2,424.4 L785.2,424.5 L786.2,424.6 L787.2,424.7 L788.1,424.8 L789.1,424.9" stroke="#4682b4"/>
</g>
<path d="M162.4,683.50v-5.6M162.4,51.85v5.6M184.0,683.50v-5.6M184.0,51.85v5.6M205.7,683.50v-9.2M205.7,51.85v9.2M227.4,683.50v-5.6M227.4,51.85v5.6M249.0,683.50v-5.6M249.0,51.85v5.6M270.7,683.50v-5.6M270.7,51.85v5.6M292.3,683.50v-9.2M292.3,51.85v9.2M314.0,683.50v-5.6M314.0,51.85v5.6M335.7,683.50v-5.6M335.7,51.85v5.6M357.3,683.50v-5.6M357.3,51.85v5.6M379.0,683.50v-9.2M379.0,51.85v9.2M400.6,683.50v-5.6M400.6,51.85v5.6M422.3,683.50v-5.6M422.3,51.85v5.6M444.0,683.50v-5.6M444.0,51.85v5.6M465.6,683.50v-9.2M465.6,51.85v9.2M487.3,683.50v-5.6M487.3,51.85v5.6M508.9,683.50v-5.6M508.9,51.85v5.6M530.6,683.50v-5.6M530.6,51.85v5.6M552.3,683.50v-9.2M552.3,51.85v9.2M573.9,683.50v-5.6M573.9,51.85v5.6M595.6,683.50v-5.6M595.6,51.85v5.6M617.2,683.50v-5.6M617.2,51.85v5.6M638.9,683.50v-9.2M638.9,51.85v9.2M660.6,683.50v-5.6M660.6,51.85v5.6M682.2,683.50v-5.6M682.2,51.85v5.6M703.9,683.50v-5.6M703.9,51.85v5.6M725.5,683.50v-9.2M725.5,51.85v9.2M747.2,683.50v-5.6M747.2,51.85v5.6M768.9,683.50v-5.6M768.9,51.85v5.6" stroke="#000" stroke-width="2.6" fill="none"/>
<path d="M149.85,673.9h9.6M781.45,673.9h-9.6M149.85,665.0h9.6M781.45,665.0h-9.6M149.85,657.4h9.6M781.45,657.4h-9.6M149.85,650.7h9.6M781.45,650.7h-9.6M149.85,644.6h9.6M781.45,644.6h-9.6M149.85,604.9h9.6M781.45,604.9h-9.6M149.85,581.7h9.6M781.45,581.7h-9.6M149.85,565.3h9.6M781.45,565.3h-9.6M149.85,552.5h9.6M781.45,552.5h-9.6M149.85,542.0h9.6M781.45,542.0h-9.6M149.85,533.2h9.6M781.45,533.2h-9.6M149.85,525.6h9.6M781.45,525.6h-9.6M149.85,518.8h9.6M781.45,518.8h-9.6M149.85,512.8h9.6M781.45,512.8h-9.6M149.85,473.1h9.6M781.45,473.1h-9.6M149.85,449.9h9.6M781.45,449.9h-9.6M149.85,433.4h9.6M781.45,433.4h-9.6M149.85,420.6h9.6M781.45,420.6h-9.6M149.85,410.2h9.6M781.45,410.2h-9.6M149.85,401.4h9.6M781.45,401.4h-9.6M149.85,393.7h9.6M781.45,393.7h-9.6M149.85,387.0h9.6M781.45,387.0h-9.6M149.85,381.0h9.6M781.45,381.0h-9.6M149.85,341.3h9.6M781.45,341.3h-9.6M149.85,318.1h9.6M781.45,318.1h-9.6M149.85,301.6h9.6M781.45,301.6h-9.6M149.85,288.8h9.6M781.45,288.8h-9.6M149.85,278.4h9.6M781.45,278.4h-9.6M149.85,269.6h9.6M781.45,269.6h-9.6M149.85,261.9h9.6M781.45,261.9h-9.6M149.85,255.2h9.6M781.45,255.2h-9.6M149.85,249.1h9.6M781.45,249.1h-9.6M149.85,209.4h9.6M781.45,209.4h-9.6M149.85,186.2h9.6M781.45,186.2h-9.6M149.85,169.8h9.6M781.45,169.8h-9.6M149.85,157.0h9.6M781.45,157.0h-9.6M149.85,146.5h9.6M781.45,146.5h-9.6M149.85,137.7h9.6M781.45,137.7h-9.6M149.85,130.1h9.6M781.45,130.1h-9.6M149.85,123.3h9.6M781.45,123.3h-9.6M149.85,117.3h9.6M781.45,117.3h-9.6M149.85,77.6h9.6M781.45,77.6h-9.6M149.85,54.4h9.6M781.45,54.4h-9.6" stroke="#000" stroke-width="2.6" fill="none"/>
<path d="M149.85,50.75V684.90" stroke="#000" stroke-width="2.2" fill="none"/>
<path d="M148.75,51.85H782.90" stroke="#000" stroke-width="2.2" fill="none"/>
<path d="M781.55,50.75V684.90" stroke="#000" stroke-width="2.7" fill="none"/>
<path d="M148.75,683.50H782.90" stroke="#000" stroke-width="2.8" fill="none"/>
<rect x="149.85" y="51.85" width="9.6" height="3.7" fill="#000"/><rect x="771.85" y="51.85" width="9.6" height="3.7" fill="#000"/>
<g style="opacity:0.99">
<text x="205.7" y="711" font-size="23.5" text-anchor="middle">6</text>
<text x="292.3" y="711" font-size="23.5" text-anchor="middle">8</text>
<text x="379.0" y="711" font-size="23.5" text-anchor="middle">10</text>
<text x="465.6" y="711" font-size="23.5" text-anchor="middle">12</text>
<text x="552.3" y="711" font-size="23.5" text-anchor="middle">14</text>
<text x="638.9" y="711" font-size="23.5" text-anchor="middle">16</text>
<text x="725.5" y="711" font-size="23.5" text-anchor="middle">18</text>
<text x="78.4" y="656.9" font-size="30">10<tspan font-size="21" dy="-9.3" dx="-0.6">−</tspan><tspan font-size="21" dy="-1.3" dx="0.3">41</tspan></text>
<text x="78.4" y="525.1" font-size="30">10<tspan font-size="21" dy="-9.3" dx="-0.6">−</tspan><tspan font-size="21" dy="-1.3" dx="0.3">40</tspan></text>
<text x="78.4" y="393.3" font-size="30">10<tspan font-size="21" dy="-9.3" dx="-0.6">−</tspan><tspan font-size="21" dy="-1.3" dx="0.3">39</tspan></text>
<text x="78.4" y="261.4" font-size="30">10<tspan font-size="21" dy="-9.3" dx="-0.6">−</tspan><tspan font-size="21" dy="-1.3" dx="0.3">38</tspan></text>
<text x="78.4" y="129.6" font-size="30">10<tspan font-size="21" dy="-9.3" dx="-0.6">−</tspan><tspan font-size="21" dy="-1.3" dx="0.3">37</tspan></text>
<text transform="translate(390.60,762.70) scale(1.0400,1)" font-size="36" font-style="italic">m</text>
<g fill="none" stroke="#000" stroke-linecap="round"><path d="M418.2,774.4L434.6,758.6" stroke-width="1.2"/><path d="M421.6,759.6C423.4,757.2 425.6,758.0 426.5,763.4C427.5,769.6 428.3,775.6 431.6,772.8" stroke-width="2.3"/></g>
<text transform="translate(446.40,762.70) scale(1.0050,1)" font-size="36">[GeV]</text>
<g transform="translate(49,433.6) rotate(-90)">
<text transform="translate(-0.60,0.00) scale(1.1000,1)" font-size="37" font-style="italic">σ</text>
<text transform="translate(20.70,5.70) scale(1.0500,1)" font-size="26" font-style="italic">n</text>
<text x="46.50" y="0.00" font-size="36">[</text>
<text transform="translate(54.70,0.00) scale(1.0200,1)" font-size="36">cm</text>
<text transform="translate(107.20,-14.80) scale(1.0800,1)" font-size="27.7">2</text>
<text x="120.70" y="0.00" font-size="36">]</text>
</g>
<g transform="translate(588.6,75.8)" fill="none" stroke="#000" stroke-linecap="round"><path d="M17.2,2.6 C16.6,0.6 13.2,-0.6 11.6,3.2 C10.2,6.4 9.2,12 7.6,18.6 C6.6,22.6 5.4,27.6 1.4,26.6" stroke-width="1.9"/><path d="M5.6,8.9H15.4" stroke-width="1.3"/><circle cx="16.6" cy="2.9" r="1.3" fill="#000" stroke="none"/><circle cx="1.9" cy="26.2" r="1.3" fill="#000" stroke="none"/></g>
<g transform="translate(625.0,75.8)" fill="none" stroke="#000" stroke-linecap="round"><path d="M17.2,2.6 C16.6,0.6 13.2,-0.6 11.6,3.2 C10.2,6.4 9.2,12 7.6,18.6 C6.6,22.6 5.4,27.6 1.4,26.6" stroke-width="1.9"/><path d="M5.6,8.9H15.4" stroke-width="1.3"/><circle cx="16.6" cy="2.9" r="1.3" fill="#000" stroke="none"/><circle cx="1.9" cy="26.2" r="1.3" fill="#000" stroke="none"/></g>
<text x="601.40" y="101.80" font-size="25" font-style="italic">n</text>
<path d="M615.7,102.2L623.0,76.1" stroke="#000" stroke-width="1.5" fill="none"/>
<text x="637.40" y="101.80" font-size="25" font-style="italic">p</text>
<text x="652.80" y="98.70" font-size="33">=</text>
<text x="673.30" y="98.70" font-size="33">−</text>
<text transform="translate(692.50,97.50) scale(0.9500,1)" font-size="33">0.7</text>
<text transform="translate(607.30,654.50) scale(1.0300,1)" font-size="31">MHM</text>
<rect x="177.5" y="428.5" width="311.9" height="233.89999999999998" fill="#fff" stroke="#5a5a5a" stroke-width="1"/>
<rect x="188.3" y="432.6" width="19.4" height="19.2" fill="#ff7f50"/>
<text transform="translate(252.80,449.00) scale(1.0107,1)" font-size="23.4">CoGeNT mod 90%</text>
<rect x="188.3" y="455.6" width="19.4" height="19.2" fill="#ff4500"/>
<text transform="translate(252.80,472.07) scale(1.0097,1)" font-size="23.4">CoGeNT abs 90%</text>
<rect x="188.3" y="478.6" width="19.4" height="19.2" fill="#b22222"/>
<text transform="translate(252.80,495.14) scale(1.0163,1)" font-size="23.4">DAMA 90%</text>
<rect x="188.3" y="501.5" width="19.4" height="19.2" fill="#b8860b"/>
<text transform="translate(252.80,518.21) scale(1.0107,1)" font-size="23.4">CRESST 1</text>
<text transform="translate(357.60,518.21) scale(1.3500,1)" font-size="24" font-style="italic">σ</text>
<path d="M188.3,534.1H227.4" stroke="#2e8b57" stroke-width="2.6" fill="none"/>
<text transform="translate(252.80,541.28) scale(1.0050,1)" font-size="23.4">XENON100 90%</text>
<path d="M188.3,557.1H222.3" stroke="#6b8e23" stroke-width="2.6" fill="none" stroke-dasharray="12.7 8.5"/>
<text transform="translate(252.80,564.35) scale(1.0163,1)" font-size="23.4">XENON10−S2 90%</text>
<path d="M188.3,580.1H219.8" stroke="#00008b" stroke-width="2.6" fill="none" stroke-dasharray="6 6.65"/>
<text transform="translate(252.80,587.42) scale(1.0069,1)" font-size="23.4">CDMS Ge low 90%</text>
<path d="M188.3,603.1H222.3" stroke="#8b4513" stroke-width="2.6" fill="none" stroke-dasharray="12.7 8.5"/>
<text transform="translate(252.80,610.49) scale(1.0069,1)" font-size="23.4">CDMS Si SUF 90%</text>
<path d="M188.3,626.0H219.8" stroke="#9932cc" stroke-width="2.6" fill="none" stroke-dasharray="6 6.65"/>
<text transform="translate(252.80,633.56) scale(1.0191,1)" font-size="23.4">CRESST−II 90%</text>
<path d="M188.3,649.0H227.4" stroke="#4682b4" stroke-width="2.6" fill="none"/>
<text transform="translate(252.80,656.63) scale(1.0097,1)" font-size="23.4">SIMPLE 90%</text>
</g>
</svg></body></html>
